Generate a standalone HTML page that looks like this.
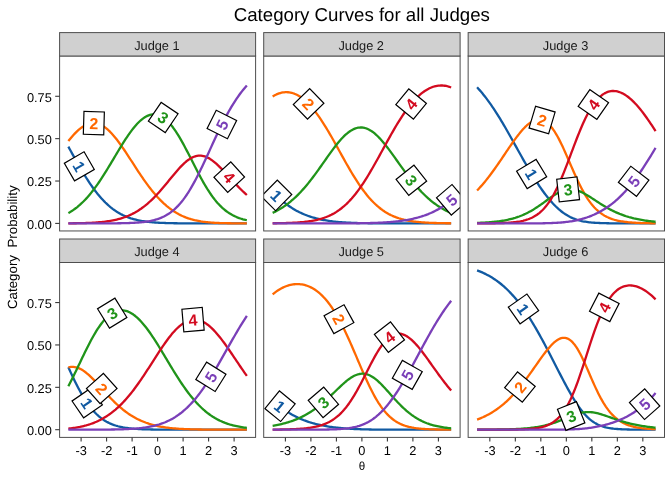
<!DOCTYPE html>
<html><head><meta charset="utf-8"><title>Category Curves for all Judges</title>
<style>html,body{margin:0;padding:0;background:#fff}svg{display:block;will-change:transform}text{font-family:"Liberation Sans",Arial,Helvetica,sans-serif;text-rendering:geometricPrecision}</style></head><body>
<svg width="672" height="480" viewBox="0 0 672 480">
<rect width="672" height="480" fill="#fff"/>
<defs>
<clipPath id="c0"><rect x="59.6" y="56" width="196" height="174.95"/></clipPath>
<clipPath id="c1"><rect x="263.7" y="56" width="196.4" height="174.95"/></clipPath>
<clipPath id="c2"><rect x="468.15" y="56" width="196.35" height="174.95"/></clipPath>
<clipPath id="c3"><rect x="59.6" y="262.5" width="196" height="174.9"/></clipPath>
<clipPath id="c4"><rect x="263.7" y="262.5" width="196.4" height="174.9"/></clipPath>
<clipPath id="c5"><rect x="468.15" y="262.5" width="196.35" height="174.9"/></clipPath>
</defs>
<text x="361.8" y="21.1" font-size="18.67" text-anchor="middle" fill="#000">Category Curves for all Judges</text>
<g clip-path="url(#c0)">
<path d="M68.35,146.62 L69.62,148.96 L70.9,151.29 L72.17,153.61 L73.45,155.92 L74.72,158.22 L76,160.5 L77.27,162.75 L78.55,164.99 L79.83,167.2 L81.1,169.38 L82.37,171.52 L83.65,173.63 L84.92,175.71 L86.2,177.74 L87.47,179.73 L88.75,181.68 L90.02,183.58 L91.3,185.44 L92.58,187.25 L93.85,189 L95.12,190.71 L96.4,192.36 L97.67,193.97 L98.95,195.52 L100.22,197.01 L101.5,198.45 L102.78,199.84 L104.05,201.18 L105.32,202.46 L106.6,203.69 L107.88,204.87 L109.15,205.99 L110.42,207.07 L111.7,208.09 L112.97,209.07 L114.25,209.99 L115.53,210.87 L116.8,211.71 L118.07,212.5 L119.35,213.25 L120.62,213.96 L121.9,214.62 L123.17,215.25 L124.45,215.85 L125.72,216.4 L127,216.92 L128.28,217.41 L129.55,217.87 L130.82,218.3 L132.1,218.7 L133.38,219.07 L134.65,219.42 L135.92,219.74 L137.2,220.04 L138.47,220.32 L139.75,220.58 L141.03,220.82 L142.3,221.04 L143.57,221.25 L144.85,221.44 L146.12,221.61 L147.4,221.77 L148.67,221.92 L149.95,222.05 L151.22,222.18 L152.5,222.29 L153.78,222.4 L155.05,222.49 L156.32,222.58 L157.6,222.66 L158.88,222.73 L160.15,222.8 L161.42,222.86 L162.7,222.92 L163.97,222.96 L165.25,223.01 L166.53,223.05 L167.8,223.09 L169.07,223.12 L170.35,223.15 L171.62,223.18 L172.9,223.2 L174.18,223.23 L175.45,223.24 L176.72,223.26 L178,223.28 L179.27,223.29 L180.55,223.31 L181.82,223.32 L183.1,223.33 L184.38,223.34 L185.65,223.34 L186.93,223.35 L188.2,223.36 L189.47,223.36 L190.75,223.37 L192.02,223.37 L193.3,223.38 L194.57,223.38 L195.85,223.38 L197.12,223.38 L198.4,223.39 L199.68,223.39 L200.95,223.39 L202.22,223.39 L203.5,223.39 L204.77,223.39 L206.05,223.39 L207.32,223.4 L208.6,223.4 L209.88,223.4 L211.15,223.4 L212.43,223.4 L213.7,223.4 L214.97,223.4 L216.25,223.4 L217.52,223.4 L218.8,223.4 L220.07,223.4 L221.35,223.4 L222.62,223.4 L223.9,223.4 L225.18,223.4 L226.45,223.4 L227.72,223.4 L229,223.4 L230.27,223.4 L231.55,223.4 L232.82,223.4 L234.1,223.4 L235.38,223.4 L236.65,223.4 L237.93,223.4 L239.2,223.4 L240.47,223.4 L241.75,223.4 L243.02,223.4 L244.3,223.4 L245.57,223.4 L246.85,223.4" fill="none" stroke="#115aa2" stroke-width="2.3" stroke-linejoin="round"/>
<path d="M68.35,141.05 L69.62,139.46 L70.9,137.92 L72.17,136.44 L73.45,135 L74.72,133.64 L76,132.33 L77.27,131.1 L78.55,129.94 L79.83,128.87 L81.1,127.87 L82.37,126.96 L83.65,126.14 L84.92,125.42 L86.2,124.78 L87.47,124.25 L88.75,123.82 L90.02,123.49 L91.3,123.26 L92.58,123.14 L93.85,123.12 L95.12,123.21 L96.4,123.4 L97.67,123.7 L98.95,124.11 L100.22,124.62 L101.5,125.23 L102.78,125.94 L104.05,126.75 L105.32,127.66 L106.6,128.65 L107.88,129.74 L109.15,130.92 L110.42,132.18 L111.7,133.52 L112.97,134.93 L114.25,136.41 L115.53,137.96 L116.8,139.57 L118.07,141.24 L119.35,142.96 L120.62,144.73 L121.9,146.54 L123.17,148.39 L124.45,150.27 L125.72,152.18 L127,154.11 L128.28,156.06 L129.55,158.03 L130.82,160 L132.1,161.97 L133.38,163.95 L134.65,165.92 L135.92,167.88 L137.2,169.83 L138.47,171.77 L139.75,173.68 L141.03,175.58 L142.3,177.45 L143.57,179.29 L144.85,181.1 L146.12,182.88 L147.4,184.63 L148.67,186.34 L149.95,188.01 L151.22,189.64 L152.5,191.23 L153.78,192.77 L155.05,194.28 L156.32,195.74 L157.6,197.15 L158.88,198.53 L160.15,199.85 L161.42,201.13 L162.7,202.37 L163.97,203.56 L165.25,204.7 L166.53,205.81 L167.8,206.86 L169.07,207.87 L170.35,208.84 L171.62,209.77 L172.9,210.65 L174.18,211.5 L175.45,212.3 L176.72,213.06 L178,213.78 L179.27,214.47 L180.55,215.12 L181.82,215.73 L183.1,216.31 L184.38,216.85 L185.65,217.37 L186.93,217.85 L188.2,218.3 L189.47,218.72 L190.75,219.11 L192.02,219.48 L193.3,219.82 L194.57,220.14 L195.85,220.43 L197.12,220.7 L198.4,220.95 L199.68,221.18 L200.95,221.4 L202.22,221.59 L203.5,221.77 L204.77,221.93 L206.05,222.08 L207.32,222.22 L208.6,222.34 L209.88,222.45 L211.15,222.55 L212.43,222.64 L213.7,222.73 L214.97,222.8 L216.25,222.87 L217.52,222.93 L218.8,222.98 L220.07,223.03 L221.35,223.07 L222.62,223.11 L223.9,223.14 L225.18,223.18 L226.45,223.2 L227.72,223.23 L229,223.25 L230.27,223.27 L231.55,223.28 L232.82,223.3 L234.1,223.31 L235.38,223.32 L236.65,223.33 L237.93,223.34 L239.2,223.35 L240.47,223.35 L241.75,223.36 L243.02,223.37 L244.3,223.37 L245.57,223.37 L246.85,223.38" fill="none" stroke="#ff6800" stroke-width="2.3" stroke-linejoin="round"/>
<path d="M68.35,213.11 L69.62,212.38 L70.9,211.6 L72.17,210.78 L73.45,209.91 L74.72,209 L76,208.04 L77.27,207.04 L78.55,205.98 L79.83,204.88 L81.1,203.72 L82.37,202.52 L83.65,201.26 L84.92,199.95 L86.2,198.59 L87.47,197.18 L88.75,195.71 L90.02,194.2 L91.3,192.63 L92.58,191.01 L93.85,189.35 L95.12,187.63 L96.4,185.87 L97.67,184.06 L98.95,182.22 L100.22,180.33 L101.5,178.4 L102.78,176.43 L104.05,174.44 L105.32,172.41 L106.6,170.35 L107.88,168.27 L109.15,166.17 L110.42,164.06 L111.7,161.93 L112.97,159.8 L114.25,157.66 L115.53,155.52 L116.8,153.38 L118.07,151.26 L119.35,149.15 L120.62,147.06 L121.9,144.99 L123.17,142.95 L124.45,140.95 L125.72,138.98 L127,137.06 L128.28,135.19 L129.55,133.37 L130.82,131.61 L132.1,129.91 L133.38,128.28 L134.65,126.71 L135.92,125.23 L137.2,123.82 L138.47,122.5 L139.75,121.26 L141.03,120.12 L142.3,119.07 L143.57,118.12 L144.85,117.26 L146.12,116.52 L147.4,115.88 L148.67,115.34 L149.95,114.92 L151.22,114.61 L152.5,114.42 L153.78,114.34 L155.05,114.38 L156.32,114.54 L157.6,114.82 L158.88,115.21 L160.15,115.73 L161.42,116.37 L162.7,117.13 L163.97,118 L165.25,118.99 L166.53,120.1 L167.8,121.33 L169.07,122.66 L170.35,124.11 L171.62,125.66 L172.9,127.31 L174.18,129.06 L175.45,130.91 L176.72,132.84 L178,134.86 L179.27,136.96 L180.55,139.13 L181.82,141.37 L183.1,143.67 L184.38,146.02 L185.65,148.42 L186.93,150.85 L188.2,153.32 L189.47,155.81 L190.75,158.32 L192.02,160.83 L193.3,163.34 L194.57,165.85 L195.85,168.34 L197.12,170.8 L198.4,173.24 L199.68,175.64 L200.95,178 L202.22,180.31 L203.5,182.57 L204.77,184.77 L206.05,186.9 L207.32,188.98 L208.6,190.98 L209.88,192.91 L211.15,194.77 L212.43,196.55 L213.7,198.25 L214.97,199.88 L216.25,201.44 L217.52,202.91 L218.8,204.31 L220.07,205.64 L221.35,206.9 L222.62,208.08 L223.9,209.19 L225.18,210.24 L226.45,211.22 L227.72,212.14 L229,213 L230.27,213.81 L231.55,214.56 L232.82,215.25 L234.1,215.9 L235.38,216.5 L236.65,217.06 L237.93,217.58 L239.2,218.06 L240.47,218.5 L241.75,218.91 L243.02,219.29 L244.3,219.64 L245.57,219.96 L246.85,220.25" fill="none" stroke="#20941a" stroke-width="2.3" stroke-linejoin="round"/>
<path d="M68.35,223.32 L69.62,223.3 L70.9,223.29 L72.17,223.28 L73.45,223.26 L74.72,223.25 L76,223.23 L77.27,223.21 L78.55,223.19 L79.83,223.16 L81.1,223.13 L82.37,223.1 L83.65,223.07 L84.92,223.03 L86.2,222.99 L87.47,222.94 L88.75,222.89 L90.02,222.84 L91.3,222.78 L92.58,222.71 L93.85,222.64 L95.12,222.56 L96.4,222.47 L97.67,222.38 L98.95,222.27 L100.22,222.16 L101.5,222.04 L102.78,221.91 L104.05,221.77 L105.32,221.61 L106.6,221.44 L107.88,221.26 L109.15,221.07 L110.42,220.86 L111.7,220.63 L112.97,220.39 L114.25,220.13 L115.53,219.85 L116.8,219.55 L118.07,219.23 L119.35,218.88 L120.62,218.52 L121.9,218.13 L123.17,217.72 L124.45,217.28 L125.72,216.81 L127,216.31 L128.28,215.79 L129.55,215.23 L130.82,214.65 L132.1,214.03 L133.38,213.37 L134.65,212.69 L135.92,211.96 L137.2,211.21 L138.47,210.41 L139.75,209.58 L141.03,208.71 L142.3,207.8 L143.57,206.85 L144.85,205.86 L146.12,204.83 L147.4,203.76 L148.67,202.65 L149.95,201.5 L151.22,200.31 L152.5,199.08 L153.78,197.82 L155.05,196.52 L156.32,195.18 L157.6,193.81 L158.88,192.4 L160.15,190.97 L161.42,189.51 L162.7,188.02 L163.97,186.52 L165.25,184.99 L166.53,183.45 L167.8,181.9 L169.07,180.34 L170.35,178.78 L171.62,177.23 L172.9,175.68 L174.18,174.15 L175.45,172.64 L176.72,171.15 L178,169.7 L179.27,168.28 L180.55,166.91 L181.82,165.59 L183.1,164.33 L184.38,163.14 L185.65,162.01 L186.93,160.96 L188.2,159.99 L189.47,159.11 L190.75,158.32 L192.02,157.62 L193.3,157.02 L194.57,156.53 L195.85,156.14 L197.12,155.86 L198.4,155.69 L199.68,155.63 L200.95,155.67 L202.22,155.82 L203.5,156.08 L204.77,156.44 L206.05,156.9 L207.32,157.46 L208.6,158.11 L209.88,158.85 L211.15,159.68 L212.43,160.58 L213.7,161.55 L214.97,162.59 L216.25,163.7 L217.52,164.86 L218.8,166.06 L220.07,167.31 L221.35,168.6 L222.62,169.92 L223.9,171.27 L225.18,172.63 L226.45,174.01 L227.72,175.4 L229,176.8 L230.27,178.2 L231.55,179.59 L232.82,180.98 L234.1,182.35 L235.38,183.72 L236.65,185.06 L237.93,186.39 L239.2,187.7 L240.47,188.98 L241.75,190.24 L243.02,191.47 L244.3,192.67 L245.57,193.85 L246.85,194.99" fill="none" stroke="#d30b20" stroke-width="2.3" stroke-linejoin="round"/>
<path d="M68.35,223.4 L69.62,223.4 L70.9,223.4 L72.17,223.4 L73.45,223.4 L74.72,223.4 L76,223.4 L77.27,223.4 L78.55,223.4 L79.83,223.4 L81.1,223.4 L82.37,223.4 L83.65,223.4 L84.92,223.4 L86.2,223.4 L87.47,223.4 L88.75,223.4 L90.02,223.39 L91.3,223.39 L92.58,223.39 L93.85,223.39 L95.12,223.39 L96.4,223.39 L97.67,223.39 L98.95,223.38 L100.22,223.38 L101.5,223.38 L102.78,223.37 L104.05,223.37 L105.32,223.37 L106.6,223.36 L107.88,223.36 L109.15,223.35 L110.42,223.34 L111.7,223.33 L112.97,223.32 L114.25,223.31 L115.53,223.3 L116.8,223.29 L118.07,223.27 L119.35,223.25 L120.62,223.23 L121.9,223.21 L123.17,223.18 L124.45,223.16 L125.72,223.12 L127,223.09 L128.28,223.05 L129.55,223 L130.82,222.95 L132.1,222.89 L133.38,222.83 L134.65,222.76 L135.92,222.68 L137.2,222.6 L138.47,222.5 L139.75,222.39 L141.03,222.28 L142.3,222.14 L143.57,222 L144.85,221.84 L146.12,221.66 L147.4,221.47 L148.67,221.26 L149.95,221.02 L151.22,220.76 L152.5,220.48 L153.78,220.17 L155.05,219.83 L156.32,219.46 L157.6,219.06 L158.88,218.62 L160.15,218.15 L161.42,217.63 L162.7,217.07 L163.97,216.46 L165.25,215.8 L166.53,215.09 L167.8,214.32 L169.07,213.5 L170.35,212.62 L171.62,211.67 L172.9,210.65 L174.18,209.57 L175.45,208.41 L176.72,207.18 L178,205.88 L179.27,204.49 L180.55,203.03 L181.82,201.49 L183.1,199.86 L184.38,198.15 L185.65,196.36 L186.93,194.49 L188.2,192.53 L189.47,190.5 L190.75,188.39 L192.02,186.2 L193.3,183.94 L194.57,181.61 L195.85,179.21 L197.12,176.75 L198.4,174.23 L199.68,171.66 L200.95,169.05 L202.22,166.39 L203.5,163.69 L204.77,160.97 L206.05,158.22 L207.32,155.45 L208.6,152.67 L209.88,149.89 L211.15,147.11 L212.43,144.33 L213.7,141.57 L214.97,138.82 L216.25,136.1 L217.52,133.4 L218.8,130.74 L220.07,128.12 L221.35,125.53 L222.62,122.99 L223.9,120.5 L225.18,118.05 L226.45,115.66 L227.72,113.33 L229,111.05 L230.27,108.83 L231.55,106.67 L232.82,104.57 L234.1,102.53 L235.38,100.56 L236.65,98.64 L237.93,96.79 L239.2,94.99 L240.47,93.26 L241.75,91.59 L243.02,89.98 L244.3,88.42 L245.57,86.92 L246.85,85.48" fill="none" stroke="#7a3fb8" stroke-width="2.3" stroke-linejoin="round"/>
<g transform="translate(79.31,166.32) rotate(59.96)"><rect x="-10.2" y="-11.4" width="20.4" height="22.8" fill="#fff" stroke="#000" stroke-width="1.2"/><text x="0" y="5.9" font-size="16" font-weight="bold" text-anchor="middle" fill="#115aa2">1</text></g>
<g transform="translate(93.85,123.12) rotate(1.61)"><rect x="-10.2" y="-11.4" width="20.4" height="22.8" fill="#fff" stroke="#000" stroke-width="1.2"/><text x="0" y="5.9" font-size="16" font-weight="bold" text-anchor="middle" fill="#ff6800">2</text></g>
<g transform="translate(163.21,117.46) rotate(34.12)"><rect x="-10.2" y="-11.4" width="20.4" height="22.8" fill="#fff" stroke="#000" stroke-width="1.2"/><text x="0" y="5.9" font-size="16" font-weight="bold" text-anchor="middle" fill="#20941a">3</text></g>
<g transform="translate(229.25,177.08) rotate(47.62)"><rect x="-10.2" y="-11.4" width="20.4" height="22.8" fill="#fff" stroke="#000" stroke-width="1.2"/><text x="0" y="5.9" font-size="16" font-weight="bold" text-anchor="middle" fill="#d30b20">4</text></g>
<g transform="translate(221.86,124.51) rotate(-63.39)"><rect x="-10.2" y="-11.4" width="20.4" height="22.8" fill="#fff" stroke="#000" stroke-width="1.2"/><text x="0" y="5.9" font-size="16" font-weight="bold" text-anchor="middle" fill="#7a3fb8">5</text></g>
</g>
<rect x="59.6" y="56" width="196" height="174.95" fill="none" stroke="#4e4e4e" stroke-width="1"/>
<rect x="59.6" y="32.6" width="196" height="23.4" fill="#d0d0d0" stroke="#4e4e4e" stroke-width="1"/>
<text x="156.9" y="50" font-size="12.8" text-anchor="middle" fill="#1a1a1a">Judge 1</text>
<line x1="55.2" x2="59.6" y1="223.4" y2="223.4" stroke="#333" stroke-width="1.07"/>
<text x="51.8" y="228.7" font-size="12.8" text-anchor="end" fill="#000">0.00</text>
<line x1="55.2" x2="59.6" y1="181.03" y2="181.03" stroke="#333" stroke-width="1.07"/>
<text x="51.8" y="186.33" font-size="12.8" text-anchor="end" fill="#000">0.25</text>
<line x1="55.2" x2="59.6" y1="138.65" y2="138.65" stroke="#333" stroke-width="1.07"/>
<text x="51.8" y="143.95" font-size="12.8" text-anchor="end" fill="#000">0.50</text>
<line x1="55.2" x2="59.6" y1="96.28" y2="96.28" stroke="#333" stroke-width="1.07"/>
<text x="51.8" y="101.58" font-size="12.8" text-anchor="end" fill="#000">0.75</text>
<g clip-path="url(#c1)">
<path d="M272.65,191.47 L273.92,192.85 L275.2,194.18 L276.47,195.47 L277.75,196.72 L279.02,197.93 L280.3,199.1 L281.57,200.23 L282.85,201.32 L284.12,202.37 L285.4,203.38 L286.67,204.36 L287.95,205.29 L289.22,206.19 L290.5,207.06 L291.77,207.89 L293.05,208.69 L294.32,209.45 L295.6,210.19 L296.88,210.89 L298.15,211.56 L299.42,212.21 L300.7,212.82 L301.97,213.41 L303.25,213.97 L304.52,214.51 L305.8,215.02 L307.07,215.5 L308.35,215.97 L309.62,216.41 L310.9,216.83 L312.17,217.23 L313.45,217.61 L314.72,217.97 L316,218.31 L317.27,218.63 L318.55,218.94 L319.82,219.23 L321.1,219.5 L322.38,219.76 L323.65,220.01 L324.92,220.24 L326.2,220.46 L327.47,220.66 L328.75,220.86 L330.02,221.04 L331.3,221.21 L332.57,221.37 L333.85,221.52 L335.12,221.66 L336.4,221.79 L337.67,221.92 L338.95,222.03 L340.22,222.14 L341.5,222.24 L342.77,222.33 L344.05,222.42 L345.32,222.5 L346.6,222.58 L347.88,222.65 L349.15,222.71 L350.42,222.77 L351.7,222.83 L352.97,222.88 L354.25,222.92 L355.52,222.97 L356.8,223.01 L358.07,223.04 L359.35,223.08 L360.62,223.11 L361.9,223.13 L363.17,223.16 L364.45,223.18 L365.72,223.2 L367,223.22 L368.27,223.24 L369.55,223.26 L370.82,223.27 L372.1,223.29 L373.38,223.3 L374.65,223.31 L375.92,223.32 L377.2,223.33 L378.47,223.33 L379.75,223.34 L381.02,223.35 L382.3,223.35 L383.57,223.36 L384.85,223.36 L386.12,223.37 L387.4,223.37 L388.67,223.37 L389.95,223.38 L391.22,223.38 L392.5,223.38 L393.77,223.38 L395.05,223.39 L396.32,223.39 L397.6,223.39 L398.88,223.39 L400.15,223.39 L401.42,223.39 L402.7,223.39 L403.97,223.39 L405.25,223.4 L406.52,223.4 L407.8,223.4 L409.07,223.4 L410.35,223.4 L411.62,223.4 L412.9,223.4 L414.17,223.4 L415.45,223.4 L416.72,223.4 L418,223.4 L419.27,223.4 L420.55,223.4 L421.82,223.4 L423.1,223.4 L424.38,223.4 L425.65,223.4 L426.92,223.4 L428.2,223.4 L429.47,223.4 L430.75,223.4 L432.02,223.4 L433.3,223.4 L434.57,223.4 L435.85,223.4 L437.12,223.4 L438.4,223.4 L439.67,223.4 L440.95,223.4 L442.22,223.4 L443.5,223.4 L444.77,223.4 L446.05,223.4 L447.32,223.4 L448.6,223.4 L449.88,223.4 L451.15,223.4" fill="none" stroke="#115aa2" stroke-width="2.3" stroke-linejoin="round"/>
<path d="M272.65,96.48 L273.92,95.72 L275.2,95.04 L276.47,94.43 L277.75,93.89 L279.02,93.42 L280.3,93.03 L281.57,92.71 L282.85,92.47 L284.12,92.3 L285.4,92.21 L286.67,92.19 L287.95,92.25 L289.22,92.39 L290.5,92.61 L291.77,92.9 L293.05,93.27 L294.32,93.71 L295.6,94.23 L296.88,94.83 L298.15,95.5 L299.42,96.25 L300.7,97.08 L301.97,97.98 L303.25,98.96 L304.52,100 L305.8,101.13 L307.07,102.32 L308.35,103.58 L309.62,104.92 L310.9,106.32 L312.17,107.79 L313.45,109.33 L314.72,110.93 L316,112.6 L317.27,114.32 L318.55,116.1 L319.82,117.94 L321.1,119.83 L322.38,121.77 L323.65,123.77 L324.92,125.8 L326.2,127.88 L327.47,130 L328.75,132.15 L330.02,134.33 L331.3,136.55 L332.57,138.79 L333.85,141.05 L335.12,143.32 L336.4,145.61 L337.67,147.91 L338.95,150.22 L340.22,152.53 L341.5,154.83 L342.77,157.13 L344.05,159.42 L345.32,161.69 L346.6,163.95 L347.88,166.19 L349.15,168.4 L350.42,170.58 L351.7,172.73 L352.97,174.85 L354.25,176.92 L355.52,178.96 L356.8,180.96 L358.07,182.91 L359.35,184.81 L360.62,186.67 L361.9,188.47 L363.17,190.23 L364.45,191.93 L365.72,193.57 L367,195.16 L368.27,196.7 L369.55,198.17 L370.82,199.6 L372.1,200.96 L373.38,202.28 L374.65,203.53 L375.92,204.73 L377.2,205.88 L378.47,206.97 L379.75,208.01 L381.02,209 L382.3,209.94 L383.57,210.83 L384.85,211.68 L386.12,212.48 L387.4,213.23 L388.67,213.94 L389.95,214.61 L391.22,215.24 L392.5,215.83 L393.77,216.38 L395.05,216.9 L396.32,217.39 L397.6,217.84 L398.88,218.27 L400.15,218.66 L401.42,219.03 L402.7,219.38 L403.97,219.7 L405.25,219.99 L406.52,220.27 L407.8,220.52 L409.07,220.76 L410.35,220.98 L411.62,221.18 L412.9,221.37 L414.17,221.54 L415.45,221.7 L416.72,221.84 L418,221.98 L419.27,222.1 L420.55,222.21 L421.82,222.32 L423.1,222.41 L424.38,222.5 L425.65,222.58 L426.92,222.65 L428.2,222.72 L429.47,222.78 L430.75,222.84 L432.02,222.89 L433.3,222.94 L434.57,222.98 L435.85,223.02 L437.12,223.06 L438.4,223.09 L439.67,223.12 L440.95,223.14 L442.22,223.17 L443.5,223.19 L444.77,223.21 L446.05,223.23 L447.32,223.25 L448.6,223.26 L449.88,223.27 L451.15,223.29" fill="none" stroke="#ff6800" stroke-width="2.3" stroke-linejoin="round"/>
<path d="M272.65,212.88 L273.92,212.27 L275.2,211.64 L276.47,210.98 L277.75,210.28 L279.02,209.56 L280.3,208.81 L281.57,208.02 L282.85,207.21 L284.12,206.35 L285.4,205.47 L286.67,204.55 L287.95,203.59 L289.22,202.59 L290.5,201.56 L291.77,200.49 L293.05,199.39 L294.32,198.24 L295.6,197.06 L296.88,195.84 L298.15,194.58 L299.42,193.28 L300.7,191.94 L301.97,190.56 L303.25,189.14 L304.52,187.69 L305.8,186.2 L307.07,184.68 L308.35,183.12 L309.62,181.52 L310.9,179.9 L312.17,178.24 L313.45,176.56 L314.72,174.85 L316,173.11 L317.27,171.36 L318.55,169.58 L319.82,167.79 L321.1,165.99 L322.38,164.18 L323.65,162.36 L324.92,160.54 L326.2,158.73 L327.47,156.92 L328.75,155.12 L330.02,153.34 L331.3,151.58 L332.57,149.84 L333.85,148.13 L335.12,146.46 L336.4,144.83 L337.67,143.25 L338.95,141.71 L340.22,140.23 L341.5,138.81 L342.77,137.45 L344.05,136.17 L345.32,134.95 L346.6,133.82 L347.88,132.77 L349.15,131.8 L350.42,130.93 L351.7,130.14 L352.97,129.46 L354.25,128.87 L355.52,128.38 L356.8,128 L358.07,127.71 L359.35,127.54 L360.62,127.47 L361.9,127.5 L363.17,127.65 L364.45,127.89 L365.72,128.25 L367,128.7 L368.27,129.26 L369.55,129.91 L370.82,130.66 L372.1,131.5 L373.38,132.44 L374.65,133.46 L375.92,134.56 L377.2,135.74 L378.47,137 L379.75,138.33 L381.02,139.72 L382.3,141.17 L383.57,142.68 L384.85,144.24 L386.12,145.84 L387.4,147.49 L388.67,149.17 L389.95,150.88 L391.22,152.62 L392.5,154.38 L393.77,156.15 L395.05,157.94 L396.32,159.73 L397.6,161.53 L398.88,163.33 L400.15,165.12 L401.42,166.91 L402.7,168.68 L403.97,170.44 L405.25,172.18 L406.52,173.9 L407.8,175.6 L409.07,177.27 L410.35,178.92 L411.62,180.53 L412.9,182.12 L414.17,183.67 L415.45,185.19 L416.72,186.67 L418,188.12 L419.27,189.53 L420.55,190.9 L421.82,192.24 L423.1,193.53 L424.38,194.79 L425.65,196.01 L426.92,197.2 L428.2,198.34 L429.47,199.45 L430.75,200.52 L432.02,201.55 L433.3,202.55 L434.57,203.51 L435.85,204.44 L437.12,205.33 L438.4,206.19 L439.67,207.02 L440.95,207.81 L442.22,208.57 L443.5,209.3 L444.77,210.01 L446.05,210.68 L447.32,211.32 L448.6,211.94 L449.88,212.53 L451.15,213.1" fill="none" stroke="#20941a" stroke-width="2.3" stroke-linejoin="round"/>
<path d="M272.65,223.27 L273.92,223.26 L275.2,223.24 L276.47,223.23 L277.75,223.21 L279.02,223.19 L280.3,223.16 L281.57,223.14 L282.85,223.11 L284.12,223.08 L285.4,223.04 L286.67,223.01 L287.95,222.97 L289.22,222.92 L290.5,222.87 L291.77,222.82 L293.05,222.76 L294.32,222.69 L295.6,222.62 L296.88,222.54 L298.15,222.46 L299.42,222.36 L300.7,222.26 L301.97,222.15 L303.25,222.03 L304.52,221.9 L305.8,221.76 L307.07,221.6 L308.35,221.43 L309.62,221.25 L310.9,221.05 L312.17,220.84 L313.45,220.61 L314.72,220.36 L316,220.09 L317.27,219.8 L318.55,219.48 L319.82,219.14 L321.1,218.78 L322.38,218.39 L323.65,217.97 L324.92,217.52 L326.2,217.04 L327.47,216.53 L328.75,215.98 L330.02,215.4 L331.3,214.78 L332.57,214.12 L333.85,213.42 L335.12,212.67 L336.4,211.88 L337.67,211.05 L338.95,210.16 L340.22,209.23 L341.5,208.25 L342.77,207.22 L344.05,206.14 L345.32,205 L346.6,203.81 L347.88,202.56 L349.15,201.26 L350.42,199.9 L351.7,198.49 L352.97,197.02 L354.25,195.49 L355.52,193.91 L356.8,192.27 L358.07,190.58 L359.35,188.83 L360.62,187.03 L361.9,185.18 L363.17,183.28 L364.45,181.34 L365.72,179.34 L367,177.3 L368.27,175.23 L369.55,173.11 L370.82,170.95 L372.1,168.77 L373.38,166.55 L374.65,164.3 L375.92,162.04 L377.2,159.75 L378.47,157.44 L379.75,155.13 L381.02,152.8 L382.3,150.47 L383.57,148.14 L384.85,145.8 L386.12,143.48 L387.4,141.16 L388.67,138.86 L389.95,136.58 L391.22,134.31 L392.5,132.07 L393.77,129.86 L395.05,127.68 L396.32,125.53 L397.6,123.42 L398.88,121.35 L400.15,119.32 L401.42,117.33 L402.7,115.4 L403.97,113.51 L405.25,111.67 L406.52,109.89 L407.8,108.16 L409.07,106.49 L410.35,104.88 L411.62,103.33 L412.9,101.84 L414.17,100.41 L415.45,99.04 L416.72,97.74 L418,96.5 L419.27,95.32 L420.55,94.22 L421.82,93.17 L423.1,92.19 L424.38,91.28 L425.65,90.44 L426.92,89.66 L428.2,88.95 L429.47,88.3 L430.75,87.72 L432.02,87.21 L433.3,86.77 L434.57,86.39 L435.85,86.08 L437.12,85.83 L438.4,85.65 L439.67,85.54 L440.95,85.49 L442.22,85.51 L443.5,85.59 L444.77,85.74 L446.05,85.96 L447.32,86.24 L448.6,86.58 L449.88,86.99 L451.15,87.47" fill="none" stroke="#d30b20" stroke-width="2.3" stroke-linejoin="round"/>
<path d="M272.65,223.4 L273.92,223.4 L275.2,223.4 L276.47,223.4 L277.75,223.4 L279.02,223.4 L280.3,223.4 L281.57,223.4 L282.85,223.4 L284.12,223.4 L285.4,223.4 L286.67,223.4 L287.95,223.4 L289.22,223.4 L290.5,223.4 L291.77,223.4 L293.05,223.4 L294.32,223.4 L295.6,223.4 L296.88,223.4 L298.15,223.4 L299.42,223.4 L300.7,223.4 L301.97,223.4 L303.25,223.4 L304.52,223.4 L305.8,223.4 L307.07,223.4 L308.35,223.4 L309.62,223.4 L310.9,223.4 L312.17,223.4 L313.45,223.4 L314.72,223.4 L316,223.4 L317.27,223.4 L318.55,223.4 L319.82,223.4 L321.1,223.4 L322.38,223.39 L323.65,223.39 L324.92,223.39 L326.2,223.39 L327.47,223.39 L328.75,223.39 L330.02,223.39 L331.3,223.39 L332.57,223.38 L333.85,223.38 L335.12,223.38 L336.4,223.38 L337.67,223.38 L338.95,223.37 L340.22,223.37 L341.5,223.36 L342.77,223.36 L344.05,223.36 L345.32,223.35 L346.6,223.34 L347.88,223.34 L349.15,223.33 L350.42,223.32 L351.7,223.31 L352.97,223.3 L354.25,223.29 L355.52,223.28 L356.8,223.27 L358.07,223.25 L359.35,223.24 L360.62,223.22 L361.9,223.2 L363.17,223.18 L364.45,223.16 L365.72,223.14 L367,223.11 L368.27,223.08 L369.55,223.05 L370.82,223.02 L372.1,222.98 L373.38,222.94 L374.65,222.9 L375.92,222.85 L377.2,222.8 L378.47,222.75 L379.75,222.69 L381.02,222.63 L382.3,222.57 L383.57,222.49 L384.85,222.42 L386.12,222.34 L387.4,222.25 L388.67,222.16 L389.95,222.06 L391.22,221.95 L392.5,221.84 L393.77,221.72 L395.05,221.59 L396.32,221.46 L397.6,221.31 L398.88,221.16 L400.15,221 L401.42,220.83 L402.7,220.65 L403.97,220.46 L405.25,220.25 L406.52,220.04 L407.8,219.81 L409.07,219.58 L410.35,219.32 L411.62,219.06 L412.9,218.78 L414.17,218.49 L415.45,218.18 L416.72,217.85 L418,217.51 L419.27,217.15 L420.55,216.77 L421.82,216.38 L423.1,215.96 L424.38,215.53 L425.65,215.07 L426.92,214.59 L428.2,214.09 L429.47,213.56 L430.75,213.02 L432.02,212.44 L433.3,211.84 L434.57,211.22 L435.85,210.56 L437.12,209.88 L438.4,209.17 L439.67,208.43 L440.95,207.65 L442.22,206.85 L443.5,206.01 L444.77,205.14 L446.05,204.23 L447.32,203.29 L448.6,202.31 L449.88,201.3 L451.15,200.25" fill="none" stroke="#7a3fb8" stroke-width="2.3" stroke-linejoin="round"/>
<g transform="translate(276.47,195.47) rotate(44.92)"><rect x="-10.2" y="-11.4" width="20.4" height="22.8" fill="#fff" stroke="#000" stroke-width="1.2"/><text x="0" y="5.9" font-size="16" font-weight="bold" text-anchor="middle" fill="#115aa2">1</text></g>
<g transform="translate(308.6,103.85) rotate(45.87)"><rect x="-10.2" y="-11.4" width="20.4" height="22.8" fill="#fff" stroke="#000" stroke-width="1.2"/><text x="0" y="5.9" font-size="16" font-weight="bold" text-anchor="middle" fill="#ff6800">2</text></g>
<g transform="translate(411.37,180.21) rotate(51.56)"><rect x="-10.2" y="-11.4" width="20.4" height="22.8" fill="#fff" stroke="#000" stroke-width="1.2"/><text x="0" y="5.9" font-size="16" font-weight="bold" text-anchor="middle" fill="#20941a">3</text></g>
<g transform="translate(411.11,103.94) rotate(-50.49)"><rect x="-10.2" y="-11.4" width="20.4" height="22.8" fill="#fff" stroke="#000" stroke-width="1.2"/><text x="0" y="5.9" font-size="16" font-weight="bold" text-anchor="middle" fill="#d30b20">4</text></g>
<g transform="translate(451.66,199.81) rotate(-40.44)"><rect x="-10.2" y="-11.4" width="20.4" height="22.8" fill="#fff" stroke="#000" stroke-width="1.2"/><text x="0" y="5.9" font-size="16" font-weight="bold" text-anchor="middle" fill="#7a3fb8">5</text></g>
</g>
<rect x="263.7" y="56" width="196.4" height="174.95" fill="none" stroke="#4e4e4e" stroke-width="1"/>
<rect x="263.7" y="32.6" width="196.4" height="23.4" fill="#d0d0d0" stroke="#4e4e4e" stroke-width="1"/>
<text x="361.2" y="50" font-size="12.8" text-anchor="middle" fill="#1a1a1a">Judge 2</text>
<g clip-path="url(#c2)">
<path d="M477.08,87.31 L478.35,88.69 L479.63,90.12 L480.9,91.59 L482.18,93.11 L483.45,94.67 L484.73,96.27 L486,97.92 L487.28,99.6 L488.55,101.34 L489.83,103.11 L491.1,104.93 L492.38,106.78 L493.65,108.68 L494.93,110.61 L496.2,112.58 L497.48,114.59 L498.75,116.63 L500.03,118.7 L501.3,120.81 L502.58,122.94 L503.85,125.1 L505.13,127.29 L506.4,129.49 L507.68,131.72 L508.95,133.97 L510.23,136.22 L511.5,138.5 L512.78,140.78 L514.05,143.07 L515.33,145.36 L516.6,147.66 L517.88,149.95 L519.15,152.24 L520.43,154.52 L521.7,156.8 L522.98,159.06 L524.25,161.31 L525.53,163.54 L526.8,165.76 L528.08,167.95 L529.35,170.11 L530.62,172.25 L531.9,174.37 L533.18,176.45 L534.45,178.5 L535.73,180.51 L537,182.49 L538.28,184.43 L539.55,186.33 L540.83,188.18 L542.1,190 L543.38,191.77 L544.65,193.49 L545.93,195.17 L547.2,196.8 L548.48,198.38 L549.75,199.91 L551.03,201.38 L552.3,202.81 L553.58,204.18 L554.85,205.49 L556.12,206.75 L557.4,207.96 L558.68,209.11 L559.95,210.2 L561.23,211.24 L562.5,212.22 L563.78,213.15 L565.05,214.02 L566.33,214.84 L567.6,215.6 L568.88,216.32 L570.15,216.98 L571.43,217.59 L572.7,218.16 L573.98,218.69 L575.25,219.17 L576.53,219.61 L577.8,220.01 L579.08,220.38 L580.35,220.71 L581.62,221.01 L582.9,221.28 L584.18,221.52 L585.45,221.74 L586.73,221.94 L588,222.11 L589.28,222.27 L590.55,222.41 L591.83,222.53 L593.1,222.64 L594.38,222.74 L595.65,222.82 L596.93,222.9 L598.2,222.96 L599.48,223.02 L600.75,223.07 L602.03,223.11 L603.3,223.15 L604.58,223.18 L605.85,223.21 L607.12,223.24 L608.4,223.26 L609.68,223.28 L610.95,223.3 L612.23,223.31 L613.5,223.32 L614.78,223.33 L616.05,223.34 L617.33,223.35 L618.6,223.36 L619.88,223.36 L621.15,223.37 L622.43,223.37 L623.7,223.38 L624.98,223.38 L626.25,223.38 L627.53,223.39 L628.8,223.39 L630.08,223.39 L631.35,223.39 L632.62,223.39 L633.9,223.39 L635.18,223.39 L636.45,223.4 L637.73,223.4 L639,223.4 L640.28,223.4 L641.55,223.4 L642.83,223.4 L644.1,223.4 L645.38,223.4 L646.65,223.4 L647.93,223.4 L649.2,223.4 L650.48,223.4 L651.75,223.4 L653.03,223.4 L654.3,223.4 L655.58,223.4" fill="none" stroke="#115aa2" stroke-width="2.3" stroke-linejoin="round"/>
<path d="M477.08,190.5 L478.35,189.17 L479.63,187.8 L480.9,186.38 L482.18,184.93 L483.45,183.45 L484.73,181.92 L486,180.36 L487.28,178.76 L488.55,177.13 L489.83,175.46 L491.1,173.77 L492.38,172.04 L493.65,170.28 L494.93,168.5 L496.2,166.69 L497.48,164.87 L498.75,163.02 L500.03,161.16 L501.3,159.28 L502.58,157.39 L503.85,155.5 L505.13,153.61 L506.4,151.71 L507.68,149.83 L508.95,147.95 L510.23,146.08 L511.5,144.24 L512.78,142.41 L514.05,140.62 L515.33,138.86 L516.6,137.14 L517.88,135.46 L519.15,133.84 L520.43,132.27 L521.7,130.76 L522.98,129.32 L524.25,127.95 L525.53,126.67 L526.8,125.47 L528.08,124.36 L529.35,123.35 L530.62,122.44 L531.9,121.65 L533.18,120.97 L534.45,120.42 L535.73,120 L537,119.71 L538.28,119.56 L539.55,119.55 L540.83,119.7 L542.1,120 L543.38,120.46 L544.65,121.08 L545.93,121.87 L547.2,122.82 L548.48,123.94 L549.75,125.23 L551.03,126.68 L552.3,128.29 L553.58,130.07 L554.85,131.99 L556.12,134.07 L557.4,136.29 L558.68,138.64 L559.95,141.11 L561.23,143.69 L562.5,146.36 L563.78,149.13 L565.05,151.96 L566.33,154.85 L567.6,157.77 L568.88,160.73 L570.15,163.69 L571.43,166.64 L572.7,169.58 L573.98,172.48 L575.25,175.34 L576.53,178.14 L577.8,180.86 L579.08,183.51 L580.35,186.07 L581.62,188.54 L582.9,190.91 L584.18,193.17 L585.45,195.33 L586.73,197.38 L588,199.32 L589.28,201.16 L590.55,202.88 L591.83,204.5 L593.1,206.02 L594.38,207.43 L595.65,208.75 L596.93,209.98 L598.2,211.12 L599.48,212.18 L600.75,213.15 L602.03,214.05 L603.3,214.88 L604.58,215.65 L605.85,216.35 L607.12,216.99 L608.4,217.58 L609.68,218.12 L610.95,218.62 L612.23,219.07 L613.5,219.48 L614.78,219.86 L616.05,220.2 L617.33,220.51 L618.6,220.79 L619.88,221.05 L621.15,221.28 L622.43,221.49 L623.7,221.68 L624.98,221.85 L626.25,222.01 L627.53,222.15 L628.8,222.28 L630.08,222.39 L631.35,222.5 L632.62,222.59 L633.9,222.68 L635.18,222.75 L636.45,222.82 L637.73,222.88 L639,222.94 L640.28,222.99 L641.55,223.03 L642.83,223.07 L644.1,223.11 L645.38,223.14 L646.65,223.17 L647.93,223.19 L649.2,223.22 L650.48,223.24 L651.75,223.26 L653.03,223.27 L654.3,223.29 L655.58,223.3" fill="none" stroke="#ff6800" stroke-width="2.3" stroke-linejoin="round"/>
<path d="M477.08,222.91 L478.35,222.87 L479.63,222.82 L480.9,222.76 L482.18,222.7 L483.45,222.64 L484.73,222.57 L486,222.49 L487.28,222.41 L488.55,222.32 L489.83,222.23 L491.1,222.12 L492.38,222.01 L493.65,221.89 L494.93,221.76 L496.2,221.62 L497.48,221.47 L498.75,221.3 L500.03,221.13 L501.3,220.94 L502.58,220.74 L503.85,220.52 L505.13,220.29 L506.4,220.04 L507.68,219.77 L508.95,219.49 L510.23,219.19 L511.5,218.87 L512.78,218.52 L514.05,218.16 L515.33,217.78 L516.6,217.37 L517.88,216.93 L519.15,216.48 L520.43,215.99 L521.7,215.49 L522.98,214.95 L524.25,214.39 L525.53,213.8 L526.8,213.18 L528.08,212.54 L529.35,211.86 L530.62,211.16 L531.9,210.43 L533.18,209.68 L534.45,208.89 L535.73,208.09 L537,207.26 L538.28,206.41 L539.55,205.53 L540.83,204.64 L542.1,203.74 L543.38,202.82 L544.65,201.9 L545.93,200.97 L547.2,200.04 L548.48,199.12 L549.75,198.2 L551.03,197.3 L552.3,196.42 L553.58,195.57 L554.85,194.75 L556.12,193.96 L557.4,193.22 L558.68,192.53 L559.95,191.89 L561.23,191.31 L562.5,190.8 L563.78,190.36 L565.05,189.99 L566.33,189.7 L567.6,189.48 L568.88,189.35 L570.15,189.29 L571.43,189.32 L572.7,189.42 L573.98,189.61 L575.25,189.87 L576.53,190.2 L577.8,190.6 L579.08,191.07 L580.35,191.59 L581.62,192.17 L582.9,192.8 L584.18,193.48 L585.45,194.19 L586.73,194.93 L588,195.71 L589.28,196.5 L590.55,197.32 L591.83,198.14 L593.1,198.98 L594.38,199.82 L595.65,200.66 L596.93,201.5 L598.2,202.33 L599.48,203.16 L600.75,203.97 L602.03,204.77 L603.3,205.55 L604.58,206.32 L605.85,207.07 L607.12,207.8 L608.4,208.51 L609.68,209.2 L610.95,209.87 L612.23,210.52 L613.5,211.14 L614.78,211.75 L616.05,212.33 L617.33,212.89 L618.6,213.43 L619.88,213.95 L621.15,214.44 L622.43,214.92 L623.7,215.37 L624.98,215.81 L626.25,216.23 L627.53,216.62 L628.8,217.01 L630.08,217.37 L631.35,217.71 L632.62,218.04 L633.9,218.36 L635.18,218.65 L636.45,218.94 L637.73,219.21 L639,219.46 L640.28,219.7 L641.55,219.93 L642.83,220.15 L644.1,220.36 L645.38,220.55 L646.65,220.74 L647.93,220.91 L649.2,221.07 L650.48,221.23 L651.75,221.37 L653.03,221.51 L654.3,221.64 L655.58,221.76" fill="none" stroke="#20941a" stroke-width="2.3" stroke-linejoin="round"/>
<path d="M477.08,223.37 L478.35,223.37 L479.63,223.37 L480.9,223.36 L482.18,223.36 L483.45,223.35 L484.73,223.34 L486,223.33 L487.28,223.32 L488.55,223.31 L489.83,223.3 L491.1,223.29 L492.38,223.27 L493.65,223.25 L494.93,223.23 L496.2,223.21 L497.48,223.18 L498.75,223.15 L500.03,223.11 L501.3,223.07 L502.58,223.03 L503.85,222.98 L505.13,222.92 L506.4,222.86 L507.68,222.78 L508.95,222.7 L510.23,222.61 L511.5,222.5 L512.78,222.39 L514.05,222.25 L515.33,222.11 L516.6,221.94 L517.88,221.76 L519.15,221.55 L520.43,221.32 L521.7,221.06 L522.98,220.78 L524.25,220.46 L525.53,220.11 L526.8,219.71 L528.08,219.28 L529.35,218.8 L530.62,218.27 L531.9,217.69 L533.18,217.05 L534.45,216.34 L535.73,215.56 L537,214.72 L538.28,213.79 L539.55,212.78 L540.83,211.68 L542.1,210.48 L543.38,209.19 L544.65,207.79 L545.93,206.28 L547.2,204.65 L548.48,202.91 L549.75,201.05 L551.03,199.07 L552.3,196.96 L553.58,194.72 L554.85,192.36 L556.12,189.87 L557.4,187.27 L558.68,184.54 L559.95,181.71 L561.23,178.77 L562.5,175.73 L563.78,172.61 L565.05,169.41 L566.33,166.14 L567.6,162.82 L568.88,159.46 L570.15,156.07 L571.43,152.68 L572.7,149.28 L573.98,145.91 L575.25,142.56 L576.53,139.26 L577.8,136.01 L579.08,132.83 L580.35,129.74 L581.62,126.73 L582.9,123.82 L584.18,121.02 L585.45,118.33 L586.73,115.77 L588,113.32 L589.28,111 L590.55,108.82 L591.83,106.76 L593.1,104.84 L594.38,103.05 L595.65,101.39 L596.93,99.86 L598.2,98.47 L599.48,97.2 L600.75,96.05 L602.03,95.03 L603.3,94.14 L604.58,93.36 L605.85,92.69 L607.12,92.14 L608.4,91.7 L609.68,91.36 L610.95,91.13 L612.23,91 L613.5,90.97 L614.78,91.04 L616.05,91.2 L617.33,91.46 L618.6,91.8 L619.88,92.23 L621.15,92.74 L622.43,93.34 L623.7,94.02 L624.98,94.78 L626.25,95.61 L627.53,96.52 L628.8,97.5 L630.08,98.55 L631.35,99.67 L632.62,100.86 L633.9,102.12 L635.18,103.43 L636.45,104.81 L637.73,106.25 L639,107.74 L640.28,109.29 L641.55,110.89 L642.83,112.53 L644.1,114.23 L645.38,115.97 L646.65,117.75 L647.93,119.57 L649.2,121.43 L650.48,123.32 L651.75,125.24 L653.03,127.19 L654.3,129.17 L655.58,131.16" fill="none" stroke="#d30b20" stroke-width="2.3" stroke-linejoin="round"/>
<path d="M477.08,223.4 L478.35,223.4 L479.63,223.4 L480.9,223.4 L482.18,223.4 L483.45,223.4 L484.73,223.4 L486,223.4 L487.28,223.4 L488.55,223.4 L489.83,223.4 L491.1,223.4 L492.38,223.4 L493.65,223.4 L494.93,223.4 L496.2,223.4 L497.48,223.4 L498.75,223.4 L500.03,223.4 L501.3,223.4 L502.58,223.4 L503.85,223.4 L505.13,223.4 L506.4,223.4 L507.68,223.4 L508.95,223.4 L510.23,223.4 L511.5,223.4 L512.78,223.4 L514.05,223.4 L515.33,223.4 L516.6,223.39 L517.88,223.39 L519.15,223.39 L520.43,223.39 L521.7,223.39 L522.98,223.39 L524.25,223.39 L525.53,223.38 L526.8,223.38 L528.08,223.38 L529.35,223.37 L530.62,223.37 L531.9,223.36 L533.18,223.36 L534.45,223.35 L535.73,223.34 L537,223.33 L538.28,223.32 L539.55,223.31 L540.83,223.29 L542.1,223.28 L543.38,223.26 L544.65,223.24 L545.93,223.21 L547.2,223.18 L548.48,223.15 L549.75,223.11 L551.03,223.07 L552.3,223.02 L553.58,222.97 L554.85,222.91 L556.12,222.84 L557.4,222.77 L558.68,222.69 L559.95,222.6 L561.23,222.5 L562.5,222.39 L563.78,222.26 L565.05,222.13 L566.33,221.98 L567.6,221.83 L568.88,221.65 L570.15,221.47 L571.43,221.26 L572.7,221.05 L573.98,220.81 L575.25,220.56 L576.53,220.3 L577.8,220.01 L579.08,219.71 L580.35,219.39 L581.62,219.05 L582.9,218.68 L584.18,218.3 L585.45,217.9 L586.73,217.48 L588,217.03 L589.28,216.57 L590.55,216.07 L591.83,215.56 L593.1,215.02 L594.38,214.46 L595.65,213.87 L596.93,213.26 L598.2,212.62 L599.48,211.95 L600.75,211.26 L602.03,210.53 L603.3,209.78 L604.58,208.99 L605.85,208.17 L607.12,207.33 L608.4,206.45 L609.68,205.53 L610.95,204.58 L612.23,203.6 L613.5,202.58 L614.78,201.52 L616.05,200.43 L617.33,199.3 L618.6,198.13 L619.88,196.92 L621.15,195.67 L622.43,194.38 L623.7,193.05 L624.98,191.68 L626.25,190.27 L627.53,188.82 L628.8,187.33 L630.08,185.8 L631.35,184.22 L632.62,182.61 L633.9,180.96 L635.18,179.27 L636.45,177.54 L637.73,175.77 L639,173.97 L640.28,172.13 L641.55,170.25 L642.83,168.35 L644.1,166.41 L645.38,164.44 L646.65,162.45 L647.93,160.43 L649.2,158.38 L650.48,156.32 L651.75,154.23 L653.03,152.13 L654.3,150.01 L655.58,147.88" fill="none" stroke="#7a3fb8" stroke-width="2.3" stroke-linejoin="round"/>
<g transform="translate(531.65,173.95) rotate(58.77)"><rect x="-10.2" y="-11.4" width="20.4" height="22.8" fill="#fff" stroke="#000" stroke-width="1.2"/><text x="0" y="5.9" font-size="16" font-weight="bold" text-anchor="middle" fill="#115aa2">1</text></g>
<g transform="translate(542.1,120) rotate(16.6)"><rect x="-10.2" y="-11.4" width="20.4" height="22.8" fill="#fff" stroke="#000" stroke-width="1.2"/><text x="0" y="5.9" font-size="16" font-weight="bold" text-anchor="middle" fill="#ff6800">2</text></g>
<g transform="translate(568.11,189.42) rotate(-6.4)"><rect x="-10.2" y="-11.4" width="20.4" height="22.8" fill="#fff" stroke="#000" stroke-width="1.2"/><text x="0" y="5.9" font-size="16" font-weight="bold" text-anchor="middle" fill="#20941a">3</text></g>
<g transform="translate(593.36,104.47) rotate(-55.14)"><rect x="-10.2" y="-11.4" width="20.4" height="22.8" fill="#fff" stroke="#000" stroke-width="1.2"/><text x="0" y="5.9" font-size="16" font-weight="bold" text-anchor="middle" fill="#d30b20">4</text></g>
<g transform="translate(633.65,181.29) rotate(-52.55)"><rect x="-10.2" y="-11.4" width="20.4" height="22.8" fill="#fff" stroke="#000" stroke-width="1.2"/><text x="0" y="5.9" font-size="16" font-weight="bold" text-anchor="middle" fill="#7a3fb8">5</text></g>
</g>
<rect x="468.15" y="56" width="196.35" height="174.95" fill="none" stroke="#4e4e4e" stroke-width="1"/>
<rect x="468.15" y="32.6" width="196.35" height="23.4" fill="#d0d0d0" stroke="#4e4e4e" stroke-width="1"/>
<text x="565.62" y="50" font-size="12.8" text-anchor="middle" fill="#1a1a1a">Judge 3</text>
<g clip-path="url(#c3)">
<path d="M68.35,367.3 L69.62,370.1 L70.9,372.87 L72.17,375.6 L73.45,378.28 L74.72,380.91 L76,383.48 L77.27,385.99 L78.55,388.43 L79.83,390.79 L81.1,393.08 L82.37,395.3 L83.65,397.43 L84.92,399.47 L86.2,401.43 L87.47,403.31 L88.75,405.09 L90.02,406.79 L91.3,408.41 L92.58,409.93 L93.85,411.38 L95.12,412.74 L96.4,414.02 L97.67,415.22 L98.95,416.35 L100.22,417.41 L101.5,418.39 L102.78,419.31 L104.05,420.17 L105.32,420.96 L106.6,421.7 L107.88,422.38 L109.15,423.02 L110.42,423.6 L111.7,424.14 L112.97,424.63 L114.25,425.09 L115.53,425.51 L116.8,425.89 L118.07,426.25 L119.35,426.57 L120.62,426.86 L121.9,427.13 L123.17,427.38 L124.45,427.6 L125.72,427.81 L127,427.99 L128.28,428.16 L129.55,428.31 L130.82,428.45 L132.1,428.58 L133.38,428.69 L134.65,428.8 L135.92,428.89 L137.2,428.97 L138.47,429.05 L139.75,429.12 L141.03,429.18 L142.3,429.24 L143.57,429.29 L144.85,429.33 L146.12,429.37 L147.4,429.41 L148.67,429.44 L149.95,429.47 L151.22,429.5 L152.5,429.52 L153.78,429.54 L155.05,429.56 L156.32,429.57 L157.6,429.59 L158.88,429.6 L160.15,429.61 L161.42,429.62 L162.7,429.63 L163.97,429.64 L165.25,429.65 L166.53,429.65 L167.8,429.66 L169.07,429.66 L170.35,429.67 L171.62,429.67 L172.9,429.68 L174.18,429.68 L175.45,429.68 L176.72,429.68 L178,429.69 L179.27,429.69 L180.55,429.69 L181.82,429.69 L183.1,429.69 L184.38,429.69 L185.65,429.69 L186.93,429.69 L188.2,429.7 L189.47,429.7 L190.75,429.7 L192.02,429.7 L193.3,429.7 L194.57,429.7 L195.85,429.7 L197.12,429.7 L198.4,429.7 L199.68,429.7 L200.95,429.7 L202.22,429.7 L203.5,429.7 L204.77,429.7 L206.05,429.7 L207.32,429.7 L208.6,429.7 L209.88,429.7 L211.15,429.7 L212.43,429.7 L213.7,429.7 L214.97,429.7 L216.25,429.7 L217.52,429.7 L218.8,429.7 L220.07,429.7 L221.35,429.7 L222.62,429.7 L223.9,429.7 L225.18,429.7 L226.45,429.7 L227.72,429.7 L229,429.7 L230.27,429.7 L231.55,429.7 L232.82,429.7 L234.1,429.7 L235.38,429.7 L236.65,429.7 L237.93,429.7 L239.2,429.7 L240.47,429.7 L241.75,429.7 L243.02,429.7 L244.3,429.7 L245.57,429.7 L246.85,429.7" fill="none" stroke="#115aa2" stroke-width="2.3" stroke-linejoin="round"/>
<path d="M68.35,367.3 L69.62,367.05 L70.9,366.89 L72.17,366.84 L73.45,366.89 L74.72,367.05 L76,367.31 L77.27,367.67 L78.55,368.13 L79.83,368.68 L81.1,369.33 L82.37,370.07 L83.65,370.89 L84.92,371.8 L86.2,372.77 L87.47,373.82 L88.75,374.93 L90.02,376.1 L91.3,377.32 L92.58,378.59 L93.85,379.89 L95.12,381.23 L96.4,382.6 L97.67,383.98 L98.95,385.38 L100.22,386.8 L101.5,388.22 L102.78,389.63 L104.05,391.05 L105.32,392.46 L106.6,393.85 L107.88,395.23 L109.15,396.6 L110.42,397.94 L111.7,399.26 L112.97,400.55 L114.25,401.81 L115.53,403.05 L116.8,404.25 L118.07,405.42 L119.35,406.56 L120.62,407.67 L121.9,408.74 L123.17,409.77 L124.45,410.77 L125.72,411.74 L127,412.67 L128.28,413.57 L129.55,414.43 L130.82,415.26 L132.1,416.05 L133.38,416.81 L134.65,417.54 L135.92,418.24 L137.2,418.91 L138.47,419.54 L139.75,420.15 L141.03,420.73 L142.3,421.28 L143.57,421.8 L144.85,422.3 L146.12,422.77 L147.4,423.21 L148.67,423.64 L149.95,424.04 L151.22,424.42 L152.5,424.77 L153.78,425.11 L155.05,425.43 L156.32,425.73 L157.6,426.01 L158.88,426.27 L160.15,426.52 L161.42,426.76 L162.7,426.97 L163.97,427.18 L165.25,427.37 L166.53,427.55 L167.8,427.72 L169.07,427.87 L170.35,428.02 L171.62,428.15 L172.9,428.28 L174.18,428.39 L175.45,428.5 L176.72,428.6 L178,428.69 L179.27,428.78 L180.55,428.86 L181.82,428.93 L183.1,429 L184.38,429.06 L185.65,429.12 L186.93,429.17 L188.2,429.22 L189.47,429.26 L190.75,429.3 L192.02,429.34 L193.3,429.37 L194.57,429.4 L195.85,429.43 L197.12,429.46 L198.4,429.48 L199.68,429.5 L200.95,429.52 L202.22,429.54 L203.5,429.56 L204.77,429.57 L206.05,429.58 L207.32,429.6 L208.6,429.61 L209.88,429.62 L211.15,429.63 L212.43,429.63 L213.7,429.64 L214.97,429.65 L216.25,429.65 L217.52,429.66 L218.8,429.66 L220.07,429.67 L221.35,429.67 L222.62,429.67 L223.9,429.68 L225.18,429.68 L226.45,429.68 L227.72,429.68 L229,429.69 L230.27,429.69 L231.55,429.69 L232.82,429.69 L234.1,429.69 L235.38,429.69 L236.65,429.69 L237.93,429.69 L239.2,429.69 L240.47,429.7 L241.75,429.7 L243.02,429.7 L244.3,429.7 L245.57,429.7 L246.85,429.7" fill="none" stroke="#ff6800" stroke-width="2.3" stroke-linejoin="round"/>
<path d="M68.35,386.17 L69.62,383.75 L70.9,381.27 L72.17,378.75 L73.45,376.18 L74.72,373.58 L76,370.94 L77.27,368.29 L78.55,365.61 L79.83,362.94 L81.1,360.26 L82.37,357.59 L83.65,354.94 L84.92,352.32 L86.2,349.72 L87.47,347.17 L88.75,344.66 L90.02,342.21 L91.3,339.82 L92.58,337.5 L93.85,335.24 L95.12,333.07 L96.4,330.97 L97.67,328.97 L98.95,327.05 L100.22,325.23 L101.5,323.5 L102.78,321.87 L104.05,320.35 L105.32,318.93 L106.6,317.62 L107.88,316.41 L109.15,315.31 L110.42,314.32 L111.7,313.43 L112.97,312.66 L114.25,311.99 L115.53,311.44 L116.8,310.99 L118.07,310.65 L119.35,310.41 L120.62,310.29 L121.9,310.26 L123.17,310.35 L124.45,310.53 L125.72,310.82 L127,311.2 L128.28,311.68 L129.55,312.26 L130.82,312.94 L132.1,313.7 L133.38,314.56 L134.65,315.51 L135.92,316.54 L137.2,317.65 L138.47,318.85 L139.75,320.12 L141.03,321.47 L142.3,322.9 L143.57,324.39 L144.85,325.95 L146.12,327.57 L147.4,329.25 L148.67,330.99 L149.95,332.79 L151.22,334.63 L152.5,336.52 L153.78,338.45 L155.05,340.41 L156.32,342.42 L157.6,344.45 L158.88,346.51 L160.15,348.59 L161.42,350.69 L162.7,352.8 L163.97,354.93 L165.25,357.06 L166.53,359.19 L167.8,361.32 L169.07,363.45 L170.35,365.57 L171.62,367.68 L172.9,369.77 L174.18,371.85 L175.45,373.9 L176.72,375.93 L178,377.94 L179.27,379.91 L180.55,381.85 L181.82,383.76 L183.1,385.63 L184.38,387.46 L185.65,389.25 L186.93,391.01 L188.2,392.71 L189.47,394.38 L190.75,396 L192.02,397.57 L193.3,399.1 L194.57,400.58 L195.85,402.02 L197.12,403.41 L198.4,404.75 L199.68,406.04 L200.95,407.28 L202.22,408.48 L203.5,409.64 L204.77,410.74 L206.05,411.8 L207.32,412.82 L208.6,413.79 L209.88,414.72 L211.15,415.61 L212.43,416.46 L213.7,417.26 L214.97,418.03 L216.25,418.76 L217.52,419.45 L218.8,420.11 L220.07,420.73 L221.35,421.32 L222.62,421.88 L223.9,422.4 L225.18,422.9 L226.45,423.36 L227.72,423.8 L229,424.22 L230.27,424.61 L231.55,424.97 L232.82,425.31 L234.1,425.63 L235.38,425.93 L236.65,426.21 L237.93,426.48 L239.2,426.72 L240.47,426.95 L241.75,427.16 L243.02,427.36 L244.3,427.54 L245.57,427.71 L246.85,427.87" fill="none" stroke="#20941a" stroke-width="2.3" stroke-linejoin="round"/>
<path d="M68.35,428.53 L69.62,428.41 L70.9,428.27 L72.17,428.11 L73.45,427.95 L74.72,427.77 L76,427.58 L77.27,427.37 L78.55,427.14 L79.83,426.9 L81.1,426.63 L82.37,426.35 L83.65,426.05 L84.92,425.73 L86.2,425.39 L87.47,425.02 L88.75,424.63 L90.02,424.22 L91.3,423.78 L92.58,423.31 L93.85,422.82 L95.12,422.3 L96.4,421.76 L97.67,421.18 L98.95,420.57 L100.22,419.93 L101.5,419.26 L102.78,418.56 L104.05,417.82 L105.32,417.05 L106.6,416.25 L107.88,415.4 L109.15,414.53 L110.42,413.61 L111.7,412.65 L112.97,411.66 L114.25,410.63 L115.53,409.56 L116.8,408.44 L118.07,407.29 L119.35,406.09 L120.62,404.86 L121.9,403.58 L123.17,402.26 L124.45,400.89 L125.72,399.49 L127,398.04 L128.28,396.56 L129.55,395.03 L130.82,393.46 L132.1,391.85 L133.38,390.21 L134.65,388.52 L135.92,386.8 L137.2,385.05 L138.47,383.26 L139.75,381.44 L141.03,379.59 L142.3,377.71 L143.57,375.81 L144.85,373.89 L146.12,371.94 L147.4,369.98 L148.67,368.01 L149.95,366.02 L151.22,364.03 L152.5,362.03 L153.78,360.04 L155.05,358.05 L156.32,356.06 L157.6,354.09 L158.88,352.13 L160.15,350.19 L161.42,348.28 L162.7,346.4 L163.97,344.54 L165.25,342.73 L166.53,340.96 L167.8,339.23 L169.07,337.55 L170.35,335.93 L171.62,334.36 L172.9,332.85 L174.18,331.41 L175.45,330.04 L176.72,328.75 L178,327.52 L179.27,326.38 L180.55,325.32 L181.82,324.34 L183.1,323.45 L184.38,322.64 L185.65,321.93 L186.93,321.31 L188.2,320.79 L189.47,320.36 L190.75,320.03 L192.02,319.79 L193.3,319.65 L194.57,319.61 L195.85,319.67 L197.12,319.83 L198.4,320.08 L199.68,320.43 L200.95,320.88 L202.22,321.41 L203.5,322.04 L204.77,322.76 L206.05,323.57 L207.32,324.47 L208.6,325.45 L209.88,326.51 L211.15,327.64 L212.43,328.86 L213.7,330.14 L214.97,331.49 L216.25,332.91 L217.52,334.38 L218.8,335.92 L220.07,337.5 L221.35,339.14 L222.62,340.82 L223.9,342.54 L225.18,344.3 L226.45,346.09 L227.72,347.91 L229,349.75 L230.27,351.61 L231.55,353.49 L232.82,355.38 L234.1,357.27 L235.38,359.17 L236.65,361.08 L237.93,362.97 L239.2,364.87 L240.47,366.75 L241.75,368.62 L243.02,370.47 L244.3,372.31 L245.57,374.12 L246.85,375.91" fill="none" stroke="#d30b20" stroke-width="2.3" stroke-linejoin="round"/>
<path d="M68.35,429.7 L69.62,429.7 L70.9,429.7 L72.17,429.7 L73.45,429.7 L74.72,429.7 L76,429.69 L77.27,429.69 L78.55,429.69 L79.83,429.69 L81.1,429.69 L82.37,429.69 L83.65,429.69 L84.92,429.69 L86.2,429.68 L87.47,429.68 L88.75,429.68 L90.02,429.68 L91.3,429.67 L92.58,429.67 L93.85,429.66 L95.12,429.66 L96.4,429.65 L97.67,429.65 L98.95,429.64 L100.22,429.63 L101.5,429.63 L102.78,429.62 L104.05,429.61 L105.32,429.6 L106.6,429.58 L107.88,429.57 L109.15,429.55 L110.42,429.54 L111.7,429.52 L112.97,429.5 L114.25,429.48 L115.53,429.45 L116.8,429.43 L118.07,429.4 L119.35,429.36 L120.62,429.33 L121.9,429.29 L123.17,429.25 L124.45,429.2 L125.72,429.15 L127,429.09 L128.28,429.03 L129.55,428.96 L130.82,428.89 L132.1,428.81 L133.38,428.72 L134.65,428.63 L135.92,428.53 L137.2,428.42 L138.47,428.3 L139.75,428.17 L141.03,428.03 L142.3,427.88 L143.57,427.71 L144.85,427.54 L146.12,427.35 L147.4,427.14 L148.67,426.92 L149.95,426.68 L151.22,426.43 L152.5,426.16 L153.78,425.87 L155.05,425.56 L156.32,425.22 L157.6,424.87 L158.88,424.49 L160.15,424.08 L161.42,423.65 L162.7,423.2 L163.97,422.71 L165.25,422.2 L166.53,421.65 L167.8,421.07 L169.07,420.46 L170.35,419.82 L171.62,419.14 L172.9,418.42 L174.18,417.66 L175.45,416.87 L176.72,416.04 L178,415.16 L179.27,414.25 L180.55,413.29 L181.82,412.28 L183.1,411.24 L184.38,410.14 L185.65,409 L186.93,407.82 L188.2,406.58 L189.47,405.3 L190.75,403.97 L192.02,402.6 L193.3,401.17 L194.57,399.7 L195.85,398.18 L197.12,396.61 L198.4,394.99 L199.68,393.33 L200.95,391.62 L202.22,389.86 L203.5,388.06 L204.77,386.22 L206.05,384.34 L207.32,382.42 L208.6,380.45 L209.88,378.46 L211.15,376.42 L212.43,374.36 L213.7,372.26 L214.97,370.13 L216.25,367.98 L217.52,365.81 L218.8,363.61 L220.07,361.4 L221.35,359.17 L222.62,356.93 L223.9,354.68 L225.18,352.43 L226.45,350.17 L227.72,347.91 L229,345.65 L230.27,343.4 L231.55,341.15 L232.82,338.92 L234.1,336.7 L235.38,334.5 L236.65,332.32 L237.93,330.16 L239.2,328.02 L240.47,325.91 L241.75,323.83 L243.02,321.78 L244.3,319.76 L245.57,317.77 L246.85,315.82" fill="none" stroke="#7a3fb8" stroke-width="2.3" stroke-linejoin="round"/>
<g transform="translate(87.22,402.94) rotate(55.39)"><rect x="-10.2" y="-11.4" width="20.4" height="22.8" fill="#fff" stroke="#000" stroke-width="1.2"/><text x="0" y="5.9" font-size="16" font-weight="bold" text-anchor="middle" fill="#115aa2">1</text></g>
<g transform="translate(101.75,388.5) rotate(48.07)"><rect x="-10.2" y="-11.4" width="20.4" height="22.8" fill="#fff" stroke="#000" stroke-width="1.2"/><text x="0" y="5.9" font-size="16" font-weight="bold" text-anchor="middle" fill="#ff6800">2</text></g>
<g transform="translate(112.21,313.11) rotate(-31.62)"><rect x="-10.2" y="-11.4" width="20.4" height="22.8" fill="#fff" stroke="#000" stroke-width="1.2"/><text x="0" y="5.9" font-size="16" font-weight="bold" text-anchor="middle" fill="#20941a">3</text></g>
<g transform="translate(193.04,319.67) rotate(-4.85)"><rect x="-10.2" y="-11.4" width="20.4" height="22.8" fill="#fff" stroke="#000" stroke-width="1.2"/><text x="0" y="5.9" font-size="16" font-weight="bold" text-anchor="middle" fill="#d30b20">4</text></g>
<g transform="translate(210.89,376.83) rotate(-58.04)"><rect x="-10.2" y="-11.4" width="20.4" height="22.8" fill="#fff" stroke="#000" stroke-width="1.2"/><text x="0" y="5.9" font-size="16" font-weight="bold" text-anchor="middle" fill="#7a3fb8">5</text></g>
</g>
<rect x="59.6" y="262.5" width="196" height="174.9" fill="none" stroke="#4e4e4e" stroke-width="1"/>
<rect x="59.6" y="239" width="196" height="23.5" fill="#d0d0d0" stroke="#4e4e4e" stroke-width="1"/>
<text x="156.9" y="256.45" font-size="12.8" text-anchor="middle" fill="#1a1a1a">Judge 4</text>
<line x1="55.2" x2="59.6" y1="429.7" y2="429.7" stroke="#333" stroke-width="1.07"/>
<text x="51.8" y="435" font-size="12.8" text-anchor="end" fill="#000">0.00</text>
<line x1="55.2" x2="59.6" y1="387.32" y2="387.32" stroke="#333" stroke-width="1.07"/>
<text x="51.8" y="392.62" font-size="12.8" text-anchor="end" fill="#000">0.25</text>
<line x1="55.2" x2="59.6" y1="344.95" y2="344.95" stroke="#333" stroke-width="1.07"/>
<text x="51.8" y="350.25" font-size="12.8" text-anchor="end" fill="#000">0.50</text>
<line x1="55.2" x2="59.6" y1="302.57" y2="302.57" stroke="#333" stroke-width="1.07"/>
<text x="51.8" y="307.88" font-size="12.8" text-anchor="end" fill="#000">0.75</text>
<line x1="81.1" x2="81.1" y1="437.4" y2="441.4" stroke="#333" stroke-width="1.07"/>
<text x="81.1" y="455" font-size="12.8" text-anchor="middle" fill="#000">-3</text>
<line x1="106.6" x2="106.6" y1="437.4" y2="441.4" stroke="#333" stroke-width="1.07"/>
<text x="106.6" y="455" font-size="12.8" text-anchor="middle" fill="#000">-2</text>
<line x1="132.1" x2="132.1" y1="437.4" y2="441.4" stroke="#333" stroke-width="1.07"/>
<text x="132.1" y="455" font-size="12.8" text-anchor="middle" fill="#000">-1</text>
<line x1="157.6" x2="157.6" y1="437.4" y2="441.4" stroke="#333" stroke-width="1.07"/>
<text x="157.6" y="455" font-size="12.8" text-anchor="middle" fill="#000">0</text>
<line x1="183.1" x2="183.1" y1="437.4" y2="441.4" stroke="#333" stroke-width="1.07"/>
<text x="183.1" y="455" font-size="12.8" text-anchor="middle" fill="#000">1</text>
<line x1="208.6" x2="208.6" y1="437.4" y2="441.4" stroke="#333" stroke-width="1.07"/>
<text x="208.6" y="455" font-size="12.8" text-anchor="middle" fill="#000">2</text>
<line x1="234.1" x2="234.1" y1="437.4" y2="441.4" stroke="#333" stroke-width="1.07"/>
<text x="234.1" y="455" font-size="12.8" text-anchor="middle" fill="#000">3</text>
<g clip-path="url(#c4)">
<path d="M272.65,399.49 L273.92,400.75 L275.2,401.97 L276.47,403.14 L277.75,404.28 L279.02,405.38 L280.3,406.44 L281.57,407.47 L282.85,408.45 L284.12,409.4 L285.4,410.32 L286.67,411.2 L287.95,412.05 L289.22,412.87 L290.5,413.65 L291.77,414.41 L293.05,415.13 L294.32,415.83 L295.6,416.49 L296.88,417.13 L298.15,417.75 L299.42,418.34 L300.7,418.9 L301.97,419.44 L303.25,419.95 L304.52,420.45 L305.8,420.92 L307.07,421.37 L308.35,421.81 L309.62,422.22 L310.9,422.61 L312.17,422.99 L313.45,423.35 L314.72,423.7 L316,424.02 L317.27,424.34 L318.55,424.64 L319.82,424.92 L321.1,425.19 L322.38,425.45 L323.65,425.7 L324.92,425.93 L326.2,426.16 L327.47,426.37 L328.75,426.57 L330.02,426.77 L331.3,426.95 L332.57,427.12 L333.85,427.29 L335.12,427.44 L336.4,427.59 L337.67,427.73 L338.95,427.87 L340.22,427.99 L341.5,428.11 L342.77,428.23 L344.05,428.33 L345.32,428.44 L346.6,428.53 L347.88,428.62 L349.15,428.7 L350.42,428.78 L351.7,428.86 L352.97,428.93 L354.25,428.99 L355.52,429.05 L356.8,429.11 L358.07,429.16 L359.35,429.21 L360.62,429.25 L361.9,429.3 L363.17,429.33 L364.45,429.37 L365.72,429.4 L367,429.43 L368.27,429.46 L369.55,429.48 L370.82,429.51 L372.1,429.53 L373.38,429.55 L374.65,429.56 L375.92,429.58 L377.2,429.59 L378.47,429.61 L379.75,429.62 L381.02,429.63 L382.3,429.64 L383.57,429.64 L384.85,429.65 L386.12,429.66 L387.4,429.66 L388.67,429.67 L389.95,429.67 L391.22,429.67 L392.5,429.68 L393.77,429.68 L395.05,429.68 L396.32,429.69 L397.6,429.69 L398.88,429.69 L400.15,429.69 L401.42,429.69 L402.7,429.69 L403.97,429.69 L405.25,429.7 L406.52,429.7 L407.8,429.7 L409.07,429.7 L410.35,429.7 L411.62,429.7 L412.9,429.7 L414.17,429.7 L415.45,429.7 L416.72,429.7 L418,429.7 L419.27,429.7 L420.55,429.7 L421.82,429.7 L423.1,429.7 L424.38,429.7 L425.65,429.7 L426.92,429.7 L428.2,429.7 L429.47,429.7 L430.75,429.7 L432.02,429.7 L433.3,429.7 L434.57,429.7 L435.85,429.7 L437.12,429.7 L438.4,429.7 L439.67,429.7 L440.95,429.7 L442.22,429.7 L443.5,429.7 L444.77,429.7 L446.05,429.7 L447.32,429.7 L448.6,429.7 L449.88,429.7 L451.15,429.7" fill="none" stroke="#115aa2" stroke-width="2.3" stroke-linejoin="round"/>
<path d="M272.65,294.32 L273.92,293.3 L275.2,292.33 L276.47,291.42 L277.75,290.56 L279.02,289.75 L280.3,288.99 L281.57,288.29 L282.85,287.65 L284.12,287.05 L285.4,286.51 L286.67,286.03 L287.95,285.59 L289.22,285.21 L290.5,284.89 L291.77,284.62 L293.05,284.4 L294.32,284.24 L295.6,284.14 L296.88,284.08 L298.15,284.09 L299.42,284.15 L300.7,284.27 L301.97,284.45 L303.25,284.68 L304.52,284.98 L305.8,285.33 L307.07,285.75 L308.35,286.22 L309.62,286.76 L310.9,287.37 L312.17,288.04 L313.45,288.77 L314.72,289.57 L316,290.44 L317.27,291.38 L318.55,292.4 L319.82,293.48 L321.1,294.64 L322.38,295.87 L323.65,297.18 L324.92,298.57 L326.2,300.04 L327.47,301.58 L328.75,303.21 L330.02,304.92 L331.3,306.71 L332.57,308.59 L333.85,310.54 L335.12,312.58 L336.4,314.7 L337.67,316.9 L338.95,319.18 L340.22,321.54 L341.5,323.97 L342.77,326.48 L344.05,329.06 L345.32,331.71 L346.6,334.41 L347.88,337.18 L349.15,340 L350.42,342.87 L351.7,345.77 L352.97,348.72 L354.25,351.68 L355.52,354.67 L356.8,357.67 L358.07,360.68 L359.35,363.67 L360.62,366.66 L361.9,369.62 L363.17,372.55 L364.45,375.45 L365.72,378.29 L367,381.09 L368.27,383.82 L369.55,386.48 L370.82,389.07 L372.1,391.58 L373.38,394 L374.65,396.33 L375.92,398.57 L377.2,400.72 L378.47,402.77 L379.75,404.72 L381.02,406.57 L382.3,408.33 L383.57,409.98 L384.85,411.55 L386.12,413.01 L387.4,414.38 L388.67,415.67 L389.95,416.86 L391.22,417.98 L392.5,419.01 L393.77,419.97 L395.05,420.85 L396.32,421.67 L397.6,422.42 L398.88,423.11 L400.15,423.75 L401.42,424.33 L402.7,424.86 L403.97,425.34 L405.25,425.78 L406.52,426.18 L407.8,426.54 L409.07,426.87 L410.35,427.17 L411.62,427.44 L412.9,427.68 L414.17,427.9 L415.45,428.09 L416.72,428.27 L418,428.43 L419.27,428.57 L420.55,428.7 L421.82,428.81 L423.1,428.91 L424.38,429 L425.65,429.08 L426.92,429.16 L428.2,429.22 L429.47,429.28 L430.75,429.33 L432.02,429.37 L433.3,429.41 L434.57,429.45 L435.85,429.48 L437.12,429.5 L438.4,429.53 L439.67,429.55 L440.95,429.57 L442.22,429.58 L443.5,429.6 L444.77,429.61 L446.05,429.62 L447.32,429.63 L448.6,429.64 L449.88,429.65 L451.15,429.66" fill="none" stroke="#ff6800" stroke-width="2.3" stroke-linejoin="round"/>
<path d="M272.65,425.89 L273.92,425.66 L275.2,425.43 L276.47,425.18 L277.75,424.91 L279.02,424.64 L280.3,424.35 L281.57,424.05 L282.85,423.73 L284.12,423.4 L285.4,423.05 L286.67,422.69 L287.95,422.31 L289.22,421.91 L290.5,421.49 L291.77,421.05 L293.05,420.6 L294.32,420.12 L295.6,419.62 L296.88,419.1 L298.15,418.56 L299.42,417.99 L300.7,417.4 L301.97,416.78 L303.25,416.14 L304.52,415.48 L305.8,414.79 L307.07,414.07 L308.35,413.32 L309.62,412.54 L310.9,411.74 L312.17,410.91 L313.45,410.05 L314.72,409.16 L316,408.24 L317.27,407.29 L318.55,406.31 L319.82,405.31 L321.1,404.28 L322.38,403.22 L323.65,402.13 L324.92,401.02 L326.2,399.89 L327.47,398.73 L328.75,397.56 L330.02,396.37 L331.3,395.16 L332.57,393.94 L333.85,392.72 L335.12,391.49 L336.4,390.25 L337.67,389.02 L338.95,387.8 L340.22,386.6 L341.5,385.41 L342.77,384.24 L344.05,383.1 L345.32,382 L346.6,380.94 L347.88,379.93 L349.15,378.97 L350.42,378.08 L351.7,377.25 L352.97,376.49 L354.25,375.81 L355.52,375.22 L356.8,374.72 L358.07,374.31 L359.35,374 L360.62,373.79 L361.9,373.68 L363.17,373.69 L364.45,373.8 L365.72,374.01 L367,374.34 L368.27,374.77 L369.55,375.3 L370.82,375.94 L372.1,376.67 L373.38,377.49 L374.65,378.41 L375.92,379.4 L377.2,380.47 L378.47,381.6 L379.75,382.8 L381.02,384.05 L382.3,385.35 L383.57,386.69 L384.85,388.07 L386.12,389.46 L387.4,390.88 L388.67,392.31 L389.95,393.75 L391.22,395.18 L392.5,396.61 L393.77,398.03 L395.05,399.44 L396.32,400.82 L397.6,402.18 L398.88,403.52 L400.15,404.82 L401.42,406.09 L402.7,407.33 L403.97,408.52 L405.25,409.68 L406.52,410.8 L407.8,411.88 L409.07,412.92 L410.35,413.91 L411.62,414.86 L412.9,415.77 L414.17,416.64 L415.45,417.47 L416.72,418.26 L418,419 L419.27,419.71 L420.55,420.38 L421.82,421.02 L423.1,421.62 L424.38,422.18 L425.65,422.71 L426.92,423.21 L428.2,423.68 L429.47,424.12 L430.75,424.53 L432.02,424.92 L433.3,425.28 L434.57,425.61 L435.85,425.93 L437.12,426.22 L438.4,426.49 L439.67,426.74 L440.95,426.98 L442.22,427.19 L443.5,427.4 L444.77,427.58 L446.05,427.76 L447.32,427.92 L448.6,428.06 L449.88,428.2 L451.15,428.32" fill="none" stroke="#20941a" stroke-width="2.3" stroke-linejoin="round"/>
<path d="M272.65,429.6 L273.92,429.59 L275.2,429.58 L276.47,429.56 L277.75,429.55 L279.02,429.53 L280.3,429.51 L281.57,429.49 L282.85,429.47 L284.12,429.44 L285.4,429.42 L286.67,429.38 L287.95,429.35 L289.22,429.31 L290.5,429.27 L291.77,429.22 L293.05,429.17 L294.32,429.12 L295.6,429.06 L296.88,428.99 L298.15,428.91 L299.42,428.83 L300.7,428.74 L301.97,428.64 L303.25,428.53 L304.52,428.41 L305.8,428.28 L307.07,428.13 L308.35,427.97 L309.62,427.8 L310.9,427.61 L312.17,427.4 L313.45,427.17 L314.72,426.92 L316,426.65 L317.27,426.35 L318.55,426.02 L319.82,425.67 L321.1,425.28 L322.38,424.86 L323.65,424.41 L324.92,423.91 L326.2,423.37 L327.47,422.79 L328.75,422.16 L330.02,421.48 L331.3,420.75 L332.57,419.96 L333.85,419.1 L335.12,418.19 L336.4,417.21 L337.67,416.16 L338.95,415.04 L340.22,413.84 L341.5,412.57 L342.77,411.22 L344.05,409.78 L345.32,408.27 L346.6,406.67 L347.88,404.98 L349.15,403.22 L350.42,401.37 L351.7,399.44 L352.97,397.43 L354.25,395.34 L355.52,393.18 L356.8,390.95 L358.07,388.66 L359.35,386.32 L360.62,383.92 L361.9,381.49 L363.17,379.02 L364.45,376.52 L365.72,374.01 L367,371.5 L368.27,368.99 L369.55,366.5 L370.82,364.04 L372.1,361.61 L373.38,359.23 L374.65,356.91 L375.92,354.66 L377.2,352.49 L378.47,350.4 L379.75,348.41 L381.02,346.52 L382.3,344.75 L383.57,343.09 L384.85,341.56 L386.12,340.15 L387.4,338.88 L388.67,337.74 L389.95,336.74 L391.22,335.88 L392.5,335.15 L393.77,334.57 L395.05,334.13 L396.32,333.83 L397.6,333.66 L398.88,333.63 L400.15,333.73 L401.42,333.96 L402.7,334.32 L403.97,334.8 L405.25,335.39 L406.52,336.09 L407.8,336.91 L409.07,337.82 L410.35,338.83 L411.62,339.93 L412.9,341.12 L414.17,342.39 L415.45,343.73 L416.72,345.14 L418,346.61 L419.27,348.13 L420.55,349.71 L421.82,351.33 L423.1,353 L424.38,354.69 L425.65,356.42 L426.92,358.17 L428.2,359.94 L429.47,361.72 L430.75,363.51 L432.02,365.3 L433.3,367.1 L434.57,368.89 L435.85,370.68 L437.12,372.45 L438.4,374.21 L439.67,375.95 L440.95,377.68 L442.22,379.38 L443.5,381.06 L444.77,382.71 L446.05,384.33 L447.32,385.92 L448.6,387.48 L449.88,389 L451.15,390.49" fill="none" stroke="#d30b20" stroke-width="2.3" stroke-linejoin="round"/>
<path d="M272.65,429.7 L273.92,429.7 L275.2,429.7 L276.47,429.7 L277.75,429.7 L279.02,429.7 L280.3,429.7 L281.57,429.7 L282.85,429.7 L284.12,429.7 L285.4,429.7 L286.67,429.7 L287.95,429.7 L289.22,429.7 L290.5,429.7 L291.77,429.7 L293.05,429.7 L294.32,429.7 L295.6,429.7 L296.88,429.69 L298.15,429.69 L299.42,429.69 L300.7,429.69 L301.97,429.69 L303.25,429.69 L304.52,429.69 L305.8,429.68 L307.07,429.68 L308.35,429.68 L309.62,429.68 L310.9,429.67 L312.17,429.67 L313.45,429.66 L314.72,429.66 L316,429.65 L317.27,429.64 L318.55,429.63 L319.82,429.62 L321.1,429.61 L322.38,429.6 L323.65,429.58 L324.92,429.57 L326.2,429.55 L327.47,429.52 L328.75,429.5 L330.02,429.47 L331.3,429.43 L332.57,429.39 L333.85,429.35 L335.12,429.3 L336.4,429.24 L337.67,429.18 L338.95,429.11 L340.22,429.03 L341.5,428.94 L342.77,428.83 L344.05,428.72 L345.32,428.59 L346.6,428.45 L347.88,428.28 L349.15,428.11 L350.42,427.91 L351.7,427.69 L352.97,427.44 L354.25,427.17 L355.52,426.88 L356.8,426.55 L358.07,426.19 L359.35,425.8 L360.62,425.38 L361.9,424.91 L363.17,424.41 L364.45,423.87 L365.72,423.28 L367,422.64 L368.27,421.96 L369.55,421.23 L370.82,420.45 L372.1,419.62 L373.38,418.73 L374.65,417.79 L375.92,416.79 L377.2,415.73 L378.47,414.62 L379.75,413.45 L381.02,412.22 L382.3,410.93 L383.57,409.59 L384.85,408.18 L386.12,406.72 L387.4,405.19 L388.67,403.61 L389.95,401.98 L391.22,400.29 L392.5,398.54 L393.77,396.74 L395.05,394.89 L396.32,392.99 L397.6,391.04 L398.88,389.05 L400.15,387.01 L401.42,384.93 L402.7,382.81 L403.97,380.65 L405.25,378.46 L406.52,376.23 L407.8,373.98 L409.07,371.7 L410.35,369.39 L411.62,367.07 L412.9,364.73 L414.17,362.38 L415.45,360.01 L416.72,357.64 L418,355.26 L419.27,352.88 L420.55,350.51 L421.82,348.14 L423.1,345.77 L424.38,343.42 L425.65,341.09 L426.92,338.76 L428.2,336.46 L429.47,334.19 L430.75,331.93 L432.02,329.71 L433.3,327.51 L434.57,325.35 L435.85,323.22 L437.12,321.13 L438.4,319.07 L439.67,317.05 L440.95,315.08 L442.22,313.14 L443.5,311.25 L444.77,309.4 L446.05,307.59 L447.32,305.83 L448.6,304.12 L449.88,302.45 L451.15,300.83" fill="none" stroke="#7a3fb8" stroke-width="2.3" stroke-linejoin="round"/>
<g transform="translate(280.04,406.23) rotate(39.48)"><rect x="-10.2" y="-11.4" width="20.4" height="22.8" fill="#fff" stroke="#000" stroke-width="1.2"/><text x="0" y="5.9" font-size="16" font-weight="bold" text-anchor="middle" fill="#115aa2">1</text></g>
<g transform="translate(338.95,319.18) rotate(61.21)"><rect x="-10.2" y="-11.4" width="20.4" height="22.8" fill="#fff" stroke="#000" stroke-width="1.2"/><text x="0" y="5.9" font-size="16" font-weight="bold" text-anchor="middle" fill="#ff6800">2</text></g>
<g transform="translate(323.39,402.35) rotate(-40.6)"><rect x="-10.2" y="-11.4" width="20.4" height="22.8" fill="#fff" stroke="#000" stroke-width="1.2"/><text x="0" y="5.9" font-size="16" font-weight="bold" text-anchor="middle" fill="#20941a">3</text></g>
<g transform="translate(389.44,337.12) rotate(-37.76)"><rect x="-10.2" y="-11.4" width="20.4" height="22.8" fill="#fff" stroke="#000" stroke-width="1.2"/><text x="0" y="5.9" font-size="16" font-weight="bold" text-anchor="middle" fill="#d30b20">4</text></g>
<g transform="translate(407.29,374.88) rotate(-60.53)"><rect x="-10.2" y="-11.4" width="20.4" height="22.8" fill="#fff" stroke="#000" stroke-width="1.2"/><text x="0" y="5.9" font-size="16" font-weight="bold" text-anchor="middle" fill="#7a3fb8">5</text></g>
</g>
<rect x="263.7" y="262.5" width="196.4" height="174.9" fill="none" stroke="#4e4e4e" stroke-width="1"/>
<rect x="263.7" y="239" width="196.4" height="23.5" fill="#d0d0d0" stroke="#4e4e4e" stroke-width="1"/>
<text x="361.2" y="256.45" font-size="12.8" text-anchor="middle" fill="#1a1a1a">Judge 5</text>
<line x1="285.4" x2="285.4" y1="437.4" y2="441.4" stroke="#333" stroke-width="1.07"/>
<text x="285.4" y="455" font-size="12.8" text-anchor="middle" fill="#000">-3</text>
<line x1="310.9" x2="310.9" y1="437.4" y2="441.4" stroke="#333" stroke-width="1.07"/>
<text x="310.9" y="455" font-size="12.8" text-anchor="middle" fill="#000">-2</text>
<line x1="336.4" x2="336.4" y1="437.4" y2="441.4" stroke="#333" stroke-width="1.07"/>
<text x="336.4" y="455" font-size="12.8" text-anchor="middle" fill="#000">-1</text>
<line x1="361.9" x2="361.9" y1="437.4" y2="441.4" stroke="#333" stroke-width="1.07"/>
<text x="361.9" y="455" font-size="12.8" text-anchor="middle" fill="#000">0</text>
<line x1="387.4" x2="387.4" y1="437.4" y2="441.4" stroke="#333" stroke-width="1.07"/>
<text x="387.4" y="455" font-size="12.8" text-anchor="middle" fill="#000">1</text>
<line x1="412.9" x2="412.9" y1="437.4" y2="441.4" stroke="#333" stroke-width="1.07"/>
<text x="412.9" y="455" font-size="12.8" text-anchor="middle" fill="#000">2</text>
<line x1="438.4" x2="438.4" y1="437.4" y2="441.4" stroke="#333" stroke-width="1.07"/>
<text x="438.4" y="455" font-size="12.8" text-anchor="middle" fill="#000">3</text>
<g clip-path="url(#c5)">
<path d="M477.08,270.33 L478.35,270.82 L479.63,271.33 L480.9,271.86 L482.18,272.42 L483.45,273 L484.73,273.61 L486,274.24 L487.28,274.91 L488.55,275.6 L489.83,276.32 L491.1,277.07 L492.38,277.85 L493.65,278.66 L494.93,279.51 L496.2,280.39 L497.48,281.3 L498.75,282.26 L500.03,283.25 L501.3,284.27 L502.58,285.34 L503.85,286.44 L505.13,287.59 L506.4,288.77 L507.68,290 L508.95,291.27 L510.23,292.59 L511.5,293.95 L512.78,295.35 L514.05,296.79 L515.33,298.29 L516.6,299.82 L517.88,301.41 L519.15,303.03 L520.43,304.71 L521.7,306.43 L522.98,308.19 L524.25,310 L525.53,311.85 L526.8,313.75 L528.08,315.69 L529.35,317.67 L530.62,319.69 L531.9,321.75 L533.18,323.86 L534.45,326 L535.73,328.17 L537,330.39 L538.28,332.63 L539.55,334.91 L540.83,337.22 L542.1,339.55 L543.38,341.91 L544.65,344.3 L545.93,346.71 L547.2,349.13 L548.48,351.58 L549.75,354.03 L551.03,356.5 L552.3,358.98 L553.58,361.47 L554.85,363.96 L556.12,366.45 L557.4,368.94 L558.68,371.43 L559.95,373.9 L561.23,376.36 L562.5,378.81 L563.78,381.23 L565.05,383.63 L566.33,386 L567.6,388.34 L568.88,390.64 L570.15,392.9 L571.43,395.11 L572.7,397.27 L573.98,399.37 L575.25,401.41 L576.53,403.39 L577.8,405.29 L579.08,407.12 L580.35,408.87 L581.62,410.55 L582.9,412.14 L584.18,413.64 L585.45,415.06 L586.73,416.39 L588,417.64 L589.28,418.8 L590.55,419.87 L591.83,420.87 L593.1,421.78 L594.38,422.62 L595.65,423.38 L596.93,424.08 L598.2,424.71 L599.48,425.28 L600.75,425.79 L602.03,426.25 L603.3,426.67 L604.58,427.03 L605.85,427.36 L607.12,427.65 L608.4,427.91 L609.68,428.13 L610.95,428.34 L612.23,428.51 L613.5,428.67 L614.78,428.8 L616.05,428.92 L617.33,429.02 L618.6,429.11 L619.88,429.19 L621.15,429.26 L622.43,429.32 L623.7,429.37 L624.98,429.42 L626.25,429.46 L627.53,429.49 L628.8,429.52 L630.08,429.54 L631.35,429.57 L632.62,429.58 L633.9,429.6 L635.18,429.61 L636.45,429.63 L637.73,429.64 L639,429.65 L640.28,429.65 L641.55,429.66 L642.83,429.67 L644.1,429.67 L645.38,429.68 L646.65,429.68 L647.93,429.68 L649.2,429.68 L650.48,429.69 L651.75,429.69 L653.03,429.69 L654.3,429.69 L655.58,429.69" fill="none" stroke="#115aa2" stroke-width="2.3" stroke-linejoin="round"/>
<path d="M477.08,419.61 L478.35,419.13 L479.63,418.62 L480.9,418.09 L482.18,417.54 L483.45,416.97 L484.73,416.36 L486,415.74 L487.28,415.08 L488.55,414.4 L489.83,413.69 L491.1,412.96 L492.38,412.19 L493.65,411.39 L494.93,410.56 L496.2,409.69 L497.48,408.8 L498.75,407.87 L500.03,406.9 L501.3,405.9 L502.58,404.86 L503.85,403.79 L505.13,402.68 L506.4,401.53 L507.68,400.34 L508.95,399.12 L510.23,397.86 L511.5,396.56 L512.78,395.22 L514.05,393.84 L515.33,392.42 L516.6,390.97 L517.88,389.48 L519.15,387.96 L520.43,386.4 L521.7,384.8 L522.98,383.17 L524.25,381.52 L525.53,379.83 L526.8,378.12 L528.08,376.38 L529.35,374.62 L530.62,372.84 L531.9,371.05 L533.18,369.24 L534.45,367.43 L535.73,365.61 L537,363.79 L538.28,361.98 L539.55,360.18 L540.83,358.39 L542.1,356.63 L543.38,354.89 L544.65,353.19 L545.93,351.54 L547.2,349.93 L548.48,348.39 L549.75,346.91 L551.03,345.5 L552.3,344.19 L553.58,342.96 L554.85,341.85 L556.12,340.84 L557.4,339.96 L558.68,339.22 L559.95,338.62 L561.23,338.17 L562.5,337.89 L563.78,337.78 L565.05,337.86 L566.33,338.12 L567.6,338.57 L568.88,339.23 L570.15,340.09 L571.43,341.16 L572.7,342.43 L573.98,343.9 L575.25,345.57 L576.53,347.43 L577.8,349.47 L579.08,351.68 L580.35,354.04 L581.62,356.55 L582.9,359.18 L584.18,361.91 L585.45,364.73 L586.73,367.61 L588,370.54 L589.28,373.49 L590.55,376.43 L591.83,379.37 L593.1,382.26 L594.38,385.11 L595.65,387.89 L596.93,390.59 L598.2,393.2 L599.48,395.71 L600.75,398.12 L602.03,400.41 L603.3,402.59 L604.58,404.65 L605.85,406.6 L607.12,408.43 L608.4,410.14 L609.68,411.74 L610.95,413.24 L612.23,414.62 L613.5,415.91 L614.78,417.1 L616.05,418.2 L617.33,419.22 L618.6,420.15 L619.88,421.01 L621.15,421.8 L622.43,422.52 L623.7,423.18 L624.98,423.79 L626.25,424.34 L627.53,424.84 L628.8,425.3 L630.08,425.72 L631.35,426.1 L632.62,426.44 L633.9,426.76 L635.18,427.04 L636.45,427.3 L637.73,427.54 L639,427.75 L640.28,427.94 L641.55,428.12 L642.83,428.27 L644.1,428.42 L645.38,428.55 L646.65,428.66 L647.93,428.77 L649.2,428.86 L650.48,428.95 L651.75,429.02 L653.03,429.09 L654.3,429.16 L655.58,429.21" fill="none" stroke="#ff6800" stroke-width="2.3" stroke-linejoin="round"/>
<path d="M477.08,429.66 L478.35,429.66 L479.63,429.65 L480.9,429.65 L482.18,429.64 L483.45,429.64 L484.73,429.63 L486,429.62 L487.28,429.62 L488.55,429.61 L489.83,429.6 L491.1,429.59 L492.38,429.58 L493.65,429.56 L494.93,429.55 L496.2,429.54 L497.48,429.52 L498.75,429.5 L500.03,429.48 L501.3,429.46 L502.58,429.44 L503.85,429.42 L505.13,429.39 L506.4,429.36 L507.68,429.32 L508.95,429.29 L510.23,429.25 L511.5,429.21 L512.78,429.16 L514.05,429.11 L515.33,429.06 L516.6,429 L517.88,428.93 L519.15,428.86 L520.43,428.79 L521.7,428.71 L522.98,428.62 L524.25,428.52 L525.53,428.42 L526.8,428.3 L528.08,428.18 L529.35,428.05 L530.62,427.91 L531.9,427.76 L533.18,427.6 L534.45,427.43 L535.73,427.24 L537,427.04 L538.28,426.83 L539.55,426.6 L540.83,426.36 L542.1,426.1 L543.38,425.82 L544.65,425.53 L545.93,425.22 L547.2,424.9 L548.48,424.55 L549.75,424.19 L551.03,423.81 L552.3,423.41 L553.58,422.99 L554.85,422.56 L556.12,422.11 L557.4,421.64 L558.68,421.16 L559.95,420.66 L561.23,420.15 L562.5,419.63 L563.78,419.1 L565.05,418.56 L566.33,418.03 L567.6,417.49 L568.88,416.96 L570.15,416.43 L571.43,415.92 L572.7,415.42 L573.98,414.94 L575.25,414.48 L576.53,414.06 L577.8,413.66 L579.08,413.3 L580.35,412.99 L581.62,412.71 L582.9,412.48 L584.18,412.3 L585.45,412.17 L586.73,412.09 L588,412.06 L589.28,412.08 L590.55,412.15 L591.83,412.26 L593.1,412.42 L594.38,412.63 L595.65,412.87 L596.93,413.15 L598.2,413.46 L599.48,413.8 L600.75,414.17 L602.03,414.56 L603.3,414.97 L604.58,415.39 L605.85,415.83 L607.12,416.27 L608.4,416.72 L609.68,417.17 L610.95,417.63 L612.23,418.08 L613.5,418.52 L614.78,418.97 L616.05,419.4 L617.33,419.83 L618.6,420.25 L619.88,420.66 L621.15,421.05 L622.43,421.44 L623.7,421.82 L624.98,422.18 L626.25,422.53 L627.53,422.87 L628.8,423.2 L630.08,423.52 L631.35,423.82 L632.62,424.11 L633.9,424.39 L635.18,424.66 L636.45,424.92 L637.73,425.17 L639,425.4 L640.28,425.63 L641.55,425.84 L642.83,426.05 L644.1,426.25 L645.38,426.43 L646.65,426.61 L647.93,426.78 L649.2,426.94 L650.48,427.1 L651.75,427.25 L653.03,427.39 L654.3,427.52 L655.58,427.65" fill="none" stroke="#20941a" stroke-width="2.3" stroke-linejoin="round"/>
<path d="M477.08,429.7 L478.35,429.7 L479.63,429.7 L480.9,429.7 L482.18,429.7 L483.45,429.7 L484.73,429.69 L486,429.69 L487.28,429.69 L488.55,429.69 L489.83,429.69 L491.1,429.69 L492.38,429.69 L493.65,429.69 L494.93,429.68 L496.2,429.68 L497.48,429.68 L498.75,429.67 L500.03,429.67 L501.3,429.66 L502.58,429.66 L503.85,429.65 L505.13,429.65 L506.4,429.64 L507.68,429.63 L508.95,429.62 L510.23,429.6 L511.5,429.59 L512.78,429.57 L514.05,429.55 L515.33,429.53 L516.6,429.51 L517.88,429.48 L519.15,429.45 L520.43,429.41 L521.7,429.37 L522.98,429.32 L524.25,429.27 L525.53,429.2 L526.8,429.13 L528.08,429.05 L529.35,428.96 L530.62,428.86 L531.9,428.74 L533.18,428.6 L534.45,428.45 L535.73,428.28 L537,428.09 L538.28,427.87 L539.55,427.62 L540.83,427.34 L542.1,427.03 L543.38,426.68 L544.65,426.29 L545.93,425.85 L547.2,425.35 L548.48,424.8 L549.75,424.19 L551.03,423.51 L552.3,422.75 L553.58,421.91 L554.85,420.98 L556.12,419.95 L557.4,418.82 L558.68,417.58 L559.95,416.21 L561.23,414.72 L562.5,413.09 L563.78,411.33 L565.05,409.41 L566.33,407.34 L567.6,405.11 L568.88,402.72 L570.15,400.17 L571.43,397.45 L572.7,394.57 L573.98,391.53 L575.25,388.34 L576.53,385 L577.8,381.52 L579.08,377.92 L580.35,374.21 L581.62,370.41 L582.9,366.53 L584.18,362.59 L585.45,358.61 L586.73,354.62 L588,350.64 L589.28,346.67 L590.55,342.75 L591.83,338.9 L593.1,335.13 L594.38,331.45 L595.65,327.88 L596.93,324.44 L598.2,321.14 L599.48,317.98 L600.75,314.97 L602.03,312.11 L603.3,309.42 L604.58,306.89 L605.85,304.51 L607.12,302.3 L608.4,300.24 L609.68,298.35 L610.95,296.6 L612.23,295 L613.5,293.54 L614.78,292.22 L616.05,291.04 L617.33,289.98 L618.6,289.05 L619.88,288.24 L621.15,287.54 L622.43,286.94 L623.7,286.45 L624.98,286.06 L626.25,285.77 L627.53,285.57 L628.8,285.45 L630.08,285.43 L631.35,285.48 L632.62,285.61 L633.9,285.82 L635.18,286.1 L636.45,286.45 L637.73,286.88 L639,287.37 L640.28,287.93 L641.55,288.55 L642.83,289.24 L644.1,289.98 L645.38,290.79 L646.65,291.66 L647.93,292.59 L649.2,293.58 L650.48,294.62 L651.75,295.72 L653.03,296.88 L654.3,298.09 L655.58,299.35" fill="none" stroke="#d30b20" stroke-width="2.3" stroke-linejoin="round"/>
<path d="M477.08,429.7 L478.35,429.7 L479.63,429.7 L480.9,429.7 L482.18,429.7 L483.45,429.7 L484.73,429.7 L486,429.7 L487.28,429.7 L488.55,429.7 L489.83,429.7 L491.1,429.7 L492.38,429.7 L493.65,429.7 L494.93,429.7 L496.2,429.7 L497.48,429.7 L498.75,429.7 L500.03,429.7 L501.3,429.7 L502.58,429.7 L503.85,429.7 L505.13,429.7 L506.4,429.7 L507.68,429.7 L508.95,429.7 L510.23,429.7 L511.5,429.7 L512.78,429.7 L514.05,429.7 L515.33,429.7 L516.6,429.7 L517.88,429.7 L519.15,429.7 L520.43,429.7 L521.7,429.7 L522.98,429.7 L524.25,429.7 L525.53,429.7 L526.8,429.7 L528.08,429.7 L529.35,429.7 L530.62,429.7 L531.9,429.7 L533.18,429.7 L534.45,429.7 L535.73,429.7 L537,429.7 L538.28,429.69 L539.55,429.69 L540.83,429.69 L542.1,429.69 L543.38,429.69 L544.65,429.69 L545.93,429.69 L547.2,429.68 L548.48,429.68 L549.75,429.68 L551.03,429.67 L552.3,429.67 L553.58,429.66 L554.85,429.65 L556.12,429.64 L557.4,429.63 L558.68,429.62 L559.95,429.61 L561.23,429.6 L562.5,429.58 L563.78,429.56 L565.05,429.54 L566.33,429.51 L567.6,429.48 L568.88,429.45 L570.15,429.41 L571.43,429.37 L572.7,429.32 L573.98,429.26 L575.25,429.2 L576.53,429.13 L577.8,429.06 L579.08,428.98 L580.35,428.88 L581.62,428.78 L582.9,428.67 L584.18,428.55 L585.45,428.42 L586.73,428.28 L588,428.13 L589.28,427.97 L590.55,427.79 L591.83,427.61 L593.1,427.41 L594.38,427.2 L595.65,426.97 L596.93,426.74 L598.2,426.49 L599.48,426.22 L600.75,425.95 L602.03,425.66 L603.3,425.35 L604.58,425.03 L605.85,424.7 L607.12,424.35 L608.4,423.98 L609.68,423.6 L610.95,423.2 L612.23,422.79 L613.5,422.36 L614.78,421.91 L616.05,421.44 L617.33,420.95 L618.6,420.43 L619.88,419.9 L621.15,419.35 L622.43,418.77 L623.7,418.17 L624.98,417.55 L626.25,416.9 L627.53,416.23 L628.8,415.52 L630.08,414.79 L631.35,414.04 L632.62,413.25 L633.9,412.43 L635.18,411.58 L636.45,410.7 L637.73,409.78 L639,408.83 L640.28,407.85 L641.55,406.83 L642.83,405.77 L644.1,404.68 L645.38,403.55 L646.65,402.38 L647.93,401.18 L649.2,399.93 L650.48,398.64 L651.75,397.32 L653.03,395.95 L654.3,394.54 L655.58,393.09" fill="none" stroke="#7a3fb8" stroke-width="2.3" stroke-linejoin="round"/>
<g transform="translate(523.49,308.91) rotate(54.75)"><rect x="-10.2" y="-11.4" width="20.4" height="22.8" fill="#fff" stroke="#000" stroke-width="1.2"/><text x="0" y="5.9" font-size="16" font-weight="bold" text-anchor="middle" fill="#115aa2">1</text></g>
<g transform="translate(519.92,387.02) rotate(-50.81)"><rect x="-10.2" y="-11.4" width="20.4" height="22.8" fill="#fff" stroke="#000" stroke-width="1.2"/><text x="0" y="5.9" font-size="16" font-weight="bold" text-anchor="middle" fill="#ff6800">2</text></g>
<g transform="translate(571.17,416.02) rotate(-21.82)"><rect x="-10.2" y="-11.4" width="20.4" height="22.8" fill="#fff" stroke="#000" stroke-width="1.2"/><text x="0" y="5.9" font-size="16" font-weight="bold" text-anchor="middle" fill="#20941a">3</text></g>
<g transform="translate(604.32,307.38) rotate(-62.85)"><rect x="-10.2" y="-11.4" width="20.4" height="22.8" fill="#fff" stroke="#000" stroke-width="1.2"/><text x="0" y="5.9" font-size="16" font-weight="bold" text-anchor="middle" fill="#d30b20">4</text></g>
<g transform="translate(644.61,404.23) rotate(-41.46)"><rect x="-10.2" y="-11.4" width="20.4" height="22.8" fill="#fff" stroke="#000" stroke-width="1.2"/><text x="0" y="5.9" font-size="16" font-weight="bold" text-anchor="middle" fill="#7a3fb8">5</text></g>
</g>
<rect x="468.15" y="262.5" width="196.35" height="174.9" fill="none" stroke="#4e4e4e" stroke-width="1"/>
<rect x="468.15" y="239" width="196.35" height="23.5" fill="#d0d0d0" stroke="#4e4e4e" stroke-width="1"/>
<text x="565.62" y="256.45" font-size="12.8" text-anchor="middle" fill="#1a1a1a">Judge 6</text>
<line x1="489.83" x2="489.83" y1="437.4" y2="441.4" stroke="#333" stroke-width="1.07"/>
<text x="489.83" y="455" font-size="12.8" text-anchor="middle" fill="#000">-3</text>
<line x1="515.33" x2="515.33" y1="437.4" y2="441.4" stroke="#333" stroke-width="1.07"/>
<text x="515.33" y="455" font-size="12.8" text-anchor="middle" fill="#000">-2</text>
<line x1="540.83" x2="540.83" y1="437.4" y2="441.4" stroke="#333" stroke-width="1.07"/>
<text x="540.83" y="455" font-size="12.8" text-anchor="middle" fill="#000">-1</text>
<line x1="566.33" x2="566.33" y1="437.4" y2="441.4" stroke="#333" stroke-width="1.07"/>
<text x="566.33" y="455" font-size="12.8" text-anchor="middle" fill="#000">0</text>
<line x1="591.83" x2="591.83" y1="437.4" y2="441.4" stroke="#333" stroke-width="1.07"/>
<text x="591.83" y="455" font-size="12.8" text-anchor="middle" fill="#000">1</text>
<line x1="617.33" x2="617.33" y1="437.4" y2="441.4" stroke="#333" stroke-width="1.07"/>
<text x="617.33" y="455" font-size="12.8" text-anchor="middle" fill="#000">2</text>
<line x1="642.83" x2="642.83" y1="437.4" y2="441.4" stroke="#333" stroke-width="1.07"/>
<text x="642.83" y="455" font-size="12.8" text-anchor="middle" fill="#000">3</text>
<text x="361.9" y="469.8" font-size="11.6" text-anchor="middle" fill="#000">θ</text>
<text transform="translate(17.0,247.2) rotate(-90)" font-size="13.33" text-anchor="middle" fill="#000" xml:space="preserve" style="white-space:pre">Category  Probability</text>
</svg></body></html>
